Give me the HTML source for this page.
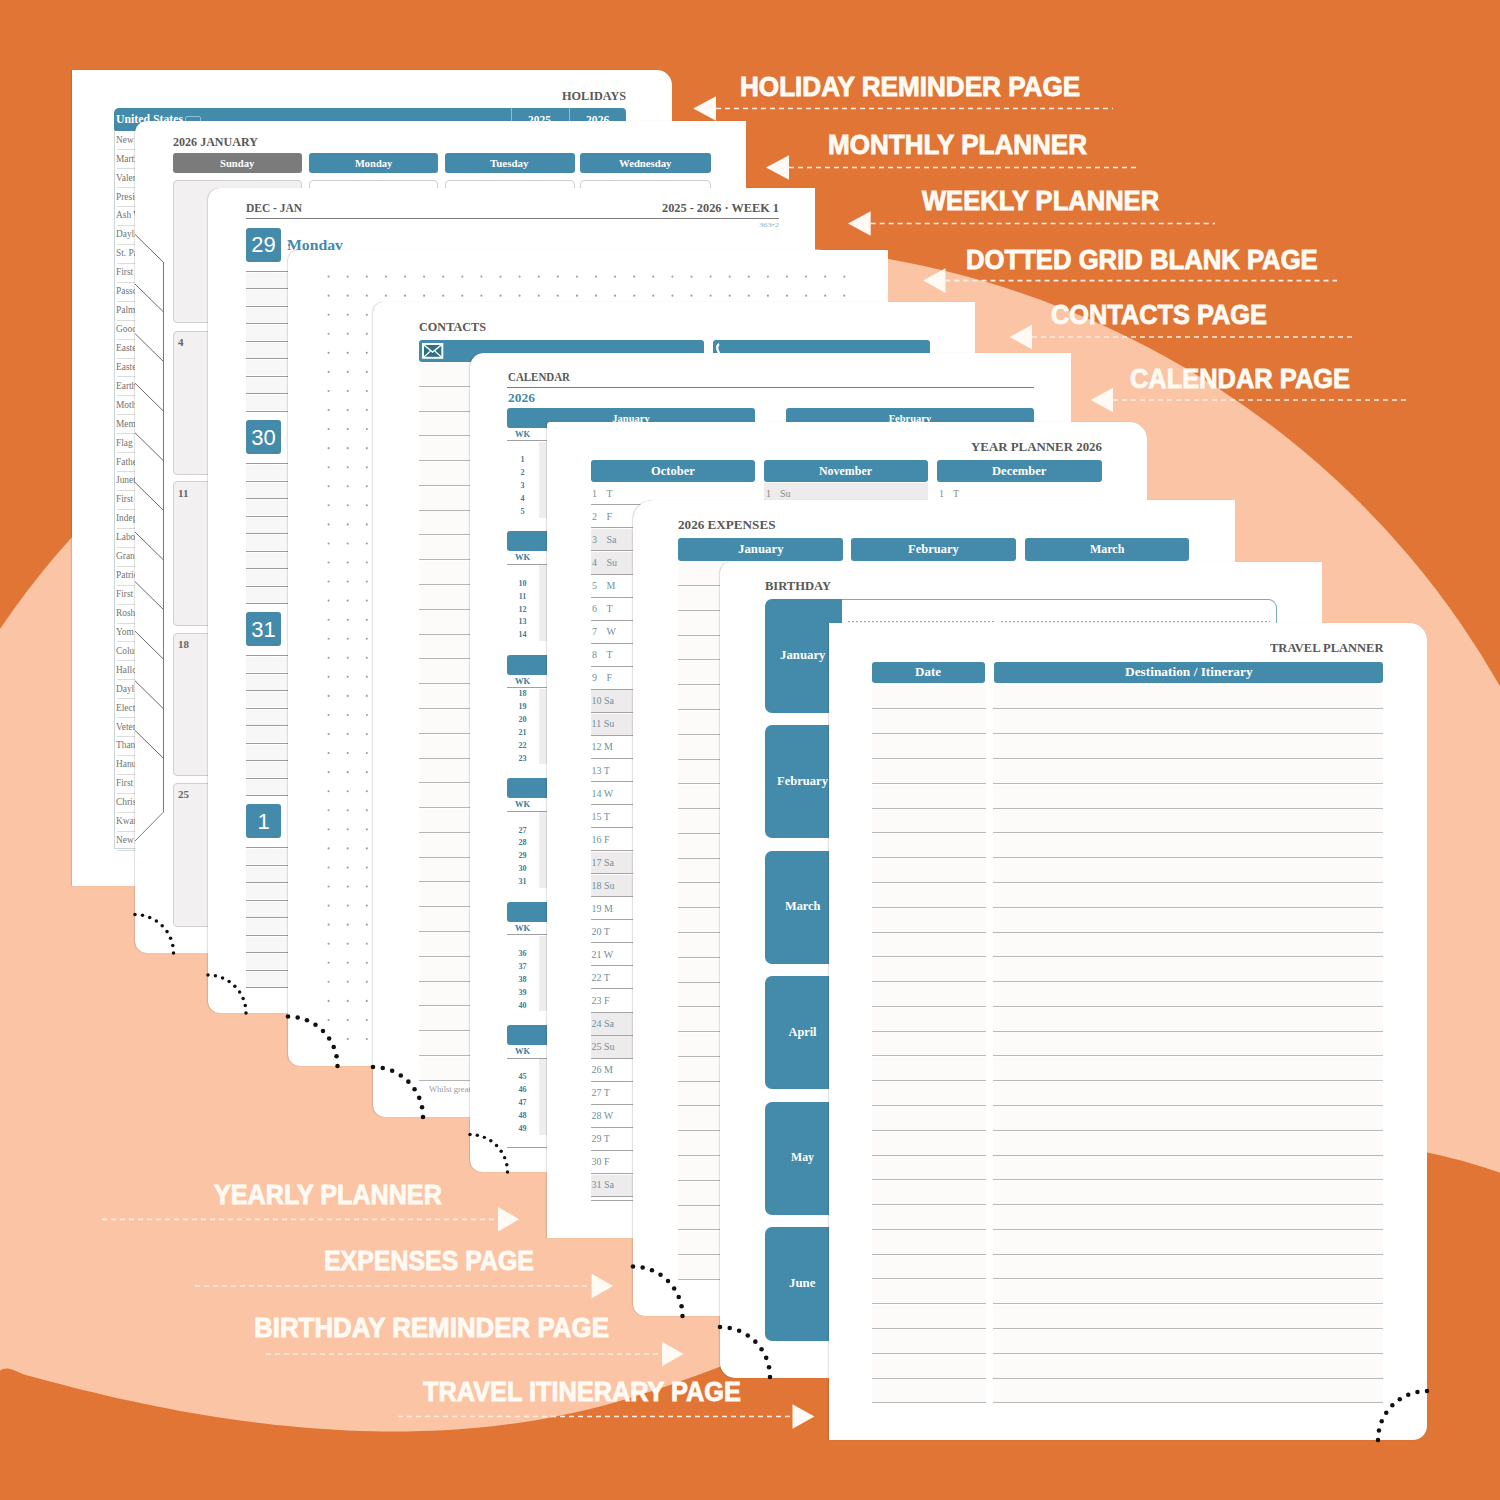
<!DOCTYPE html><html><head><meta charset="utf-8"><style>
html,body{margin:0;padding:0;width:1500px;height:1500px;overflow:hidden;background:#e07536}
.a{position:absolute;display:block}
.t{position:absolute;white-space:nowrap;display:block}
.pg{position:absolute;background:#fff;overflow:hidden}
</style></head><body>
<svg class="a" style="left:0;top:0" width="1500" height="1500"><rect x="0" y="0" width="1500" height="1500" fill="#e07536"/><ellipse cx="732.2" cy="1097.6" rx="876.7" ry="852.2" fill="#fbc4a4"/><path d="M0,1500 L0,1370.5 Q3,1368.2 8,1368.6 Q12,1369.4 16,1370.9 L24,1374.4 L36,1377.7 L48,1381.0 L60,1384.1 L72,1387.2 L84,1390.2 L96,1393.1 L108,1395.9 L120,1398.7 L132,1401.3 L144,1403.8 L156,1406.3 L168,1408.6 L180,1410.9 L192,1413.0 L204,1415.0 L216,1416.9 L228,1418.8 L240,1420.5 L252,1422.0 L264,1423.5 L276,1424.9 L288,1426.1 L300,1427.2 L312,1428.2 L324,1429.1 L336,1429.8 L348,1430.4 L360,1430.9 L372,1431.2 L384,1431.4 L396,1431.5 L408,1431.4 L420,1431.1 L432,1430.7 L444,1430.2 L456,1429.4 L468,1428.5 L480,1427.5 L492,1426.2 L504,1424.8 L516,1423.2 L528,1421.4 L540,1419.4 L552,1417.2 L564,1414.8 L576,1412.2 L588,1409.4 L600,1406.4 L612,1403.2 L624,1399.7 L636,1396.1 L648,1392.3 L660,1388.4 L672,1384.3 L684,1380.1 L696,1375.7 L708,1371.3 L720,1366.8 L732,1362.2 L744,1357.6 L756,1352.9 L768,1348.3 L780,1343.6 L792,1338.9 L804,1334.3 L816,1329.7 L828,1325.1 L840,1320.6 L852,1316.2 C1000,1250 1250,1160 1380,1148 C1400,1147 1414,1149 1428,1152.7 C1450,1157 1475,1164 1500,1172.7 L1500,1500 Z" fill="#e07536"/></svg><span id="t1" class="t" style="left:739.9px;top:74.31px;font:bold 26.8px/26.8px 'Liberation Sans', sans-serif;color:#fffaf4;transform:scaleX(0.9735);transform-origin:0 0;-webkit-text-stroke:0.9px #fffaf4;">HOLIDAY REMINDER PAGE</span><svg class="a" style="left:0;top:0" width="1500" height="1500"><line x1="716" y1="108.5" x2="1113" y2="108.5" stroke="#fdeee2" stroke-width="1.7" stroke-dasharray="5 4"/><polygon points="716,96.2 693.3,108.5 716,120.8" fill="#fffaf4"/></svg><span id="t2" class="t" style="left:828px;top:132.31px;font:bold 26.8px/26.8px 'Liberation Sans', sans-serif;color:#fffaf4;transform:scaleX(0.9719);transform-origin:0 0;-webkit-text-stroke:0.9px #fffaf4;">MONTHLY PLANNER</span><svg class="a" style="left:0;top:0" width="1500" height="1500"><line x1="789" y1="167.5" x2="1140" y2="167.5" stroke="#fdeee2" stroke-width="1.7" stroke-dasharray="5 4"/><polygon points="789,155.2 766,167.5 789,179.8" fill="#fffaf4"/></svg><span id="t3" class="t" style="left:921.9px;top:188.21px;font:bold 26.8px/26.8px 'Liberation Sans', sans-serif;color:#fffaf4;transform:scaleX(0.9536);transform-origin:0 0;-webkit-text-stroke:0.9px #fffaf4;">WEEKLY PLANNER</span><svg class="a" style="left:0;top:0" width="1500" height="1500"><line x1="870.7" y1="223.5" x2="1215" y2="223.5" stroke="#fdeee2" stroke-width="1.7" stroke-dasharray="5 4"/><polygon points="870.7,211.2 848,223.5 870.7,235.8" fill="#fffaf4"/></svg><span id="t4" class="t" style="left:966.4px;top:246.61px;font:bold 26.8px/26.8px 'Liberation Sans', sans-serif;color:#fffaf4;transform:scaleX(0.9578);transform-origin:0 0;-webkit-text-stroke:0.9px #fffaf4;">DOTTED GRID BLANK PAGE</span><svg class="a" style="left:0;top:0" width="1500" height="1500"><line x1="945.5" y1="280.6" x2="1337" y2="280.6" stroke="#fdeee2" stroke-width="1.7" stroke-dasharray="5 4"/><polygon points="945.5,268.3 923.2,280.6 945.5,292.9" fill="#fffaf4"/></svg><span id="t5" class="t" style="left:1051px;top:302.41px;font:bold 26.8px/26.8px 'Liberation Sans', sans-serif;color:#fffaf4;transform:scaleX(0.9463);transform-origin:0 0;-webkit-text-stroke:0.9px #fffaf4;">CONTACTS PAGE</span><svg class="a" style="left:0;top:0" width="1500" height="1500"><line x1="1032" y1="337" x2="1352.6" y2="337" stroke="#fdeee2" stroke-width="1.7" stroke-dasharray="5 4"/><polygon points="1032,324.7 1009.6,337 1032,349.3" fill="#fffaf4"/></svg><span id="t6" class="t" style="left:1130px;top:366.11px;font:bold 26.8px/26.8px 'Liberation Sans', sans-serif;color:#fffaf4;transform:scaleX(0.9493);transform-origin:0 0;-webkit-text-stroke:0.9px #fffaf4;">CALENDAR PAGE</span><svg class="a" style="left:0;top:0" width="1500" height="1500"><line x1="1113" y1="400" x2="1407" y2="400" stroke="#fdeee2" stroke-width="1.7" stroke-dasharray="5 4"/><polygon points="1113,387.7 1090.6,400 1113,412.3" fill="#fffaf4"/></svg><span id="t7" class="t" style="left:214.1px;top:1181.81px;font:bold 26.8px/26.8px 'Liberation Sans', sans-serif;color:#fffaf4;transform:scaleX(0.9386);transform-origin:0 0;-webkit-text-stroke:0.9px #fffaf4;">YEARLY PLANNER</span><svg class="a" style="left:0;top:0" width="1500" height="1500"><line x1="102" y1="1219.3" x2="498" y2="1219.3" stroke="#fdeee2" stroke-width="1.7" stroke-dasharray="5 4"/><polygon points="498,1207 519.2,1219.3 498,1231.6" fill="#fffaf4"/></svg><span id="t8" class="t" style="left:324.1px;top:1248.31px;font:bold 26.8px/26.8px 'Liberation Sans', sans-serif;color:#fffaf4;transform:scaleX(0.9294);transform-origin:0 0;-webkit-text-stroke:0.9px #fffaf4;">EXPENSES PAGE</span><svg class="a" style="left:0;top:0" width="1500" height="1500"><line x1="195" y1="1286" x2="591.7" y2="1286" stroke="#fdeee2" stroke-width="1.7" stroke-dasharray="5 4"/><polygon points="591.7,1273.7 613,1286 591.7,1298.3" fill="#fffaf4"/></svg><span id="t9" class="t" style="left:254.1px;top:1315.21px;font:bold 26.8px/26.8px 'Liberation Sans', sans-serif;color:#fffaf4;transform:scaleX(0.9664);transform-origin:0 0;-webkit-text-stroke:0.9px #fffaf4;">BIRTHDAY REMINDER PAGE</span><svg class="a" style="left:0;top:0" width="1500" height="1500"><line x1="266" y1="1354" x2="662" y2="1354" stroke="#fdeee2" stroke-width="1.7" stroke-dasharray="5 4"/><polygon points="662,1341.7 683.5,1354 662,1366.3" fill="#fffaf4"/></svg><span id="t10" class="t" style="left:422.8px;top:1378.51px;font:bold 26.8px/26.8px 'Liberation Sans', sans-serif;color:#fffaf4;transform:scaleX(0.9449);transform-origin:0 0;-webkit-text-stroke:0.9px #fffaf4;">TRAVEL ITINERARY PAGE</span><svg class="a" style="left:0;top:0" width="1500" height="1500"><line x1="398" y1="1416.5" x2="792.5" y2="1416.5" stroke="#fdeee2" stroke-width="1.7" stroke-dasharray="5 4"/><polygon points="792.5,1404.2 814.5,1416.5 792.5,1428.8" fill="#fffaf4"/></svg>
<div class="pg" style="left:72px;top:70px;width:600px;height:816px;border-radius:0 15px 0 0;box-shadow:-1px 0 1.2px rgba(0,0,0,0.13),0 0 0.6px rgba(70,40,20,0.30);"><span id="t11" class="t" style="left:489.5px;top:18.57px;font:bold 13px/13px 'Liberation Serif', serif;color:#585858;transform:scaleX(0.9390);transform-origin:0 0;">HOLIDAYS</span><div class="a" style="left:42px;top:38px;width:512px;height:23px;background:#448aab;border-radius:5px 4px 0 0;"></div><span id="t12" class="t" style="left:44px;top:42.92px;font:bold 12.5px/12.5px 'Liberation Serif', serif;color:#fff;transform:scaleX(0.9412);transform-origin:0 0;">United States</span><div class="a" style="left:113.2px;top:45.6px;width:16px;height:10.4px;background:transparent;border-radius:2px;border:1.2px solid #8fc0d4;box-sizing:border-box;"></div><div class="a" style="left:439px;top:38px;width:1px;height:23px;background:#8fbcd0;"></div><div class="a" style="left:497px;top:38px;width:1px;height:23px;background:#8fbcd0;"></div><span id="t13" class="t" style="left:456.4px;top:43.88px;font:bold 12px/12px 'Liberation Serif', serif;color:#fff;transform:scaleX(0.9583);transform-origin:0 0;">2025</span><span id="t14" class="t" style="left:513.7px;top:43.88px;font:bold 12px/12px 'Liberation Serif', serif;color:#fff;transform:scaleX(0.9708);transform-origin:0 0;">2026</span><span id="t15" class="t" style="left:44px;top:65.71px;font:normal 9.4px/9.4px 'Liberation Serif', serif;color:#747474;">New Year's Day</span><div class="a" style="left:45px;top:79px;width:23px;height:1px;background:#dcdcdc;"></div><span id="t16" class="t" style="left:44px;top:84.64px;font:normal 9.4px/9.4px 'Liberation Serif', serif;color:#747474;">Martin Luther King</span><div class="a" style="left:45px;top:98px;width:23px;height:1px;background:#dcdcdc;"></div><span id="t17" class="t" style="left:44px;top:103.57px;font:normal 9.4px/9.4px 'Liberation Serif', serif;color:#747474;">Valentine's Day</span><div class="a" style="left:45px;top:117px;width:23px;height:1px;background:#dcdcdc;"></div><span id="t18" class="t" style="left:44px;top:122.5px;font:normal 9.4px/9.4px 'Liberation Serif', serif;color:#747474;">Presidents' Day</span><div class="a" style="left:45px;top:136px;width:23px;height:1px;background:#dcdcdc;"></div><span id="t19" class="t" style="left:44px;top:141.43px;font:normal 9.4px/9.4px 'Liberation Serif', serif;color:#747474;">Ash Wednesday</span><div class="a" style="left:45px;top:155px;width:23px;height:1px;background:#dcdcdc;"></div><span id="t20" class="t" style="left:44px;top:160.36px;font:normal 9.4px/9.4px 'Liberation Serif', serif;color:#747474;">Daylight Saving</span><div class="a" style="left:45px;top:174px;width:23px;height:1px;background:#dcdcdc;"></div><span id="t21" class="t" style="left:44px;top:179.29px;font:normal 9.4px/9.4px 'Liberation Serif', serif;color:#747474;">St. Patrick's Day</span><div class="a" style="left:45px;top:193px;width:23px;height:1px;background:#dcdcdc;"></div><span id="t22" class="t" style="left:44px;top:198.22px;font:normal 9.4px/9.4px 'Liberation Serif', serif;color:#747474;">First Day of Spring</span><div class="a" style="left:45px;top:212px;width:23px;height:1px;background:#dcdcdc;"></div><span id="t23" class="t" style="left:44px;top:217.15px;font:normal 9.4px/9.4px 'Liberation Serif', serif;color:#747474;">Passover</span><div class="a" style="left:45px;top:231px;width:23px;height:1px;background:#dcdcdc;"></div><span id="t24" class="t" style="left:44px;top:236.08px;font:normal 9.4px/9.4px 'Liberation Serif', serif;color:#747474;">Palm Sunday</span><div class="a" style="left:45px;top:250px;width:23px;height:1px;background:#dcdcdc;"></div><span id="t25" class="t" style="left:44px;top:255.01px;font:normal 9.4px/9.4px 'Liberation Serif', serif;color:#747474;">Good Friday</span><div class="a" style="left:45px;top:269px;width:23px;height:1px;background:#dcdcdc;"></div><span id="t26" class="t" style="left:44px;top:273.94px;font:normal 9.4px/9.4px 'Liberation Serif', serif;color:#747474;">Easter Sunday</span><div class="a" style="left:45px;top:288px;width:23px;height:1px;background:#dcdcdc;"></div><span id="t27" class="t" style="left:44px;top:292.87px;font:normal 9.4px/9.4px 'Liberation Serif', serif;color:#747474;">Easter Monday</span><div class="a" style="left:45px;top:306px;width:23px;height:1px;background:#dcdcdc;"></div><span id="t28" class="t" style="left:44px;top:311.8px;font:normal 9.4px/9.4px 'Liberation Serif', serif;color:#747474;">Earth Day</span><div class="a" style="left:45px;top:325px;width:23px;height:1px;background:#dcdcdc;"></div><span id="t29" class="t" style="left:44px;top:330.73px;font:normal 9.4px/9.4px 'Liberation Serif', serif;color:#747474;">Mother's Day</span><div class="a" style="left:45px;top:344px;width:23px;height:1px;background:#dcdcdc;"></div><span id="t30" class="t" style="left:44px;top:349.66px;font:normal 9.4px/9.4px 'Liberation Serif', serif;color:#747474;">Memorial Day</span><div class="a" style="left:45px;top:363px;width:23px;height:1px;background:#dcdcdc;"></div><span id="t31" class="t" style="left:44px;top:368.59px;font:normal 9.4px/9.4px 'Liberation Serif', serif;color:#747474;">Flag Day</span><div class="a" style="left:45px;top:382px;width:23px;height:1px;background:#dcdcdc;"></div><span id="t32" class="t" style="left:44px;top:387.52px;font:normal 9.4px/9.4px 'Liberation Serif', serif;color:#747474;">Father's Day</span><div class="a" style="left:45px;top:401px;width:23px;height:1px;background:#dcdcdc;"></div><span id="t33" class="t" style="left:44px;top:406.45px;font:normal 9.4px/9.4px 'Liberation Serif', serif;color:#747474;">Juneteenth</span><div class="a" style="left:45px;top:420px;width:23px;height:1px;background:#dcdcdc;"></div><span id="t34" class="t" style="left:44px;top:425.38px;font:normal 9.4px/9.4px 'Liberation Serif', serif;color:#747474;">First Day of Summer</span><div class="a" style="left:45px;top:439px;width:23px;height:1px;background:#dcdcdc;"></div><span id="t35" class="t" style="left:44px;top:444.31px;font:normal 9.4px/9.4px 'Liberation Serif', serif;color:#747474;">Independence Day</span><div class="a" style="left:45px;top:458px;width:23px;height:1px;background:#dcdcdc;"></div><span id="t36" class="t" style="left:44px;top:463.24px;font:normal 9.4px/9.4px 'Liberation Serif', serif;color:#747474;">Labor Day</span><div class="a" style="left:45px;top:477px;width:23px;height:1px;background:#dcdcdc;"></div><span id="t37" class="t" style="left:44px;top:482.17px;font:normal 9.4px/9.4px 'Liberation Serif', serif;color:#747474;">Grandparents Day</span><div class="a" style="left:45px;top:496px;width:23px;height:1px;background:#dcdcdc;"></div><span id="t38" class="t" style="left:44px;top:501.1px;font:normal 9.4px/9.4px 'Liberation Serif', serif;color:#747474;">Patriot Day</span><div class="a" style="left:45px;top:515px;width:23px;height:1px;background:#dcdcdc;"></div><span id="t39" class="t" style="left:44px;top:520.03px;font:normal 9.4px/9.4px 'Liberation Serif', serif;color:#747474;">First Day of Autumn</span><div class="a" style="left:45px;top:534px;width:23px;height:1px;background:#dcdcdc;"></div><span id="t40" class="t" style="left:44px;top:538.96px;font:normal 9.4px/9.4px 'Liberation Serif', serif;color:#747474;">Rosh Hashana</span><div class="a" style="left:45px;top:553px;width:23px;height:1px;background:#dcdcdc;"></div><span id="t41" class="t" style="left:44px;top:557.89px;font:normal 9.4px/9.4px 'Liberation Serif', serif;color:#747474;">Yom Kippur</span><div class="a" style="left:45px;top:571px;width:23px;height:1px;background:#dcdcdc;"></div><span id="t42" class="t" style="left:44px;top:576.82px;font:normal 9.4px/9.4px 'Liberation Serif', serif;color:#747474;">Columbus Day</span><div class="a" style="left:45px;top:590px;width:23px;height:1px;background:#dcdcdc;"></div><span id="t43" class="t" style="left:44px;top:595.75px;font:normal 9.4px/9.4px 'Liberation Serif', serif;color:#747474;">Halloween</span><div class="a" style="left:45px;top:609px;width:23px;height:1px;background:#dcdcdc;"></div><span id="t44" class="t" style="left:44px;top:614.68px;font:normal 9.4px/9.4px 'Liberation Serif', serif;color:#747474;">Daylight Saving</span><div class="a" style="left:45px;top:628px;width:23px;height:1px;background:#dcdcdc;"></div><span id="t45" class="t" style="left:44px;top:633.61px;font:normal 9.4px/9.4px 'Liberation Serif', serif;color:#747474;">Election Day</span><div class="a" style="left:45px;top:647px;width:23px;height:1px;background:#dcdcdc;"></div><span id="t46" class="t" style="left:44px;top:652.54px;font:normal 9.4px/9.4px 'Liberation Serif', serif;color:#747474;">Veterans Day</span><div class="a" style="left:45px;top:666px;width:23px;height:1px;background:#dcdcdc;"></div><span id="t47" class="t" style="left:44px;top:671.47px;font:normal 9.4px/9.4px 'Liberation Serif', serif;color:#747474;">Thanksgiving</span><div class="a" style="left:45px;top:685px;width:23px;height:1px;background:#dcdcdc;"></div><span id="t48" class="t" style="left:44px;top:690.4px;font:normal 9.4px/9.4px 'Liberation Serif', serif;color:#747474;">Hanukkah</span><div class="a" style="left:45px;top:704px;width:23px;height:1px;background:#dcdcdc;"></div><span id="t49" class="t" style="left:44px;top:709.33px;font:normal 9.4px/9.4px 'Liberation Serif', serif;color:#747474;">First Day of Winter</span><div class="a" style="left:45px;top:723px;width:23px;height:1px;background:#dcdcdc;"></div><span id="t50" class="t" style="left:44px;top:728.26px;font:normal 9.4px/9.4px 'Liberation Serif', serif;color:#747474;">Christmas Day</span><div class="a" style="left:45px;top:742px;width:23px;height:1px;background:#dcdcdc;"></div><span id="t51" class="t" style="left:44px;top:747.19px;font:normal 9.4px/9.4px 'Liberation Serif', serif;color:#747474;">Kwanzaa</span><div class="a" style="left:45px;top:761px;width:23px;height:1px;background:#dcdcdc;"></div><span id="t52" class="t" style="left:44px;top:766.12px;font:normal 9.4px/9.4px 'Liberation Serif', serif;color:#747474;">New Year's Eve</span><div class="a" style="left:45px;top:780px;width:23px;height:1px;background:#dcdcdc;"></div><div class="a" style="left:42px;top:60px;width:1px;height:718px;background:#c9d6dc;"></div><div class="a" style="left:42px;top:777.5px;width:26px;height:1px;background:#c9d6dc;"></div></div>
<div class="pg" style="left:135px;top:121px;width:611px;height:832px;border-radius:12px 0 0 12px;box-shadow:-1px 0 1.2px rgba(0,0,0,0.13),0 0 0.6px rgba(70,40,20,0.30);"><span id="t53" class="t" style="left:37.6px;top:14.62px;font:bold 12.5px/12.5px 'Liberation Serif', serif;color:#585858;transform:scaleX(0.9647);transform-origin:0 0;">2026 JANUARY</span><div class="a" style="left:37.6px;top:32.4px;width:129.7px;height:19.8px;background:#7b7b7b;border-radius:3px;"></div><span id="t54" class="t" style="left:85.3px;top:36.99px;font:bold 10.8px/10.8px 'Liberation Serif', serif;color:#fff;transform:scaleX(0.9848);transform-origin:0 0;">Sunday</span><div class="a" style="left:173.5px;top:32.4px;width:129.8px;height:19.8px;background:#448aab;border-radius:3px;"></div><span id="t55" class="t" style="left:219.8px;top:36.99px;font:bold 10.8px/10.8px 'Liberation Serif', serif;color:#fff;transform:scaleX(0.9686);transform-origin:0 0;">Monday</span><div class="a" style="left:309.5px;top:32.4px;width:130px;height:19.8px;background:#448aab;border-radius:3px;"></div><span id="t56" class="t" style="left:355.25px;top:36.99px;font:bold 10.8px/10.8px 'Liberation Serif', serif;color:#fff;transform:scaleX(1.0127);transform-origin:0 0;">Tuesday</span><div class="a" style="left:445.4px;top:32.4px;width:130.2px;height:19.8px;background:#448aab;border-radius:3px;"></div><span id="t57" class="t" style="left:484.25px;top:36.99px;font:bold 10.8px/10.8px 'Liberation Serif', serif;color:#fff;transform:scaleX(0.9941);transform-origin:0 0;">Wednesday</span><div class="a" style="left:37.6px;top:59px;width:129.7px;height:143px;background:#f2f0f1;border-radius:4px;border:1px solid #cfcfcf;box-sizing:border-box;"></div><div class="a" style="left:37.6px;top:209.8px;width:129.7px;height:144.2px;background:#f2f0f1;border-radius:4px;border:1px solid #cfcfcf;box-sizing:border-box;"></div><div class="a" style="left:37.6px;top:360px;width:129.7px;height:144.6px;background:#f2f0f1;border-radius:4px;border:1px solid #cfcfcf;box-sizing:border-box;"></div><div class="a" style="left:37.6px;top:511.6px;width:129.7px;height:143.9px;background:#f2f0f1;border-radius:4px;border:1px solid #cfcfcf;box-sizing:border-box;"></div><div class="a" style="left:37.6px;top:661.6px;width:129.7px;height:144.4px;background:#f2f0f1;border-radius:4px;border:1px solid #cfcfcf;box-sizing:border-box;"></div><div class="a" style="left:173.5px;top:59px;width:129.8px;height:150px;background:#fff;border-radius:4px;border:1px solid #cfcfcf;box-sizing:border-box;"></div><div class="a" style="left:309.5px;top:59px;width:130px;height:150px;background:#fff;border-radius:4px;border:1px solid #cfcfcf;box-sizing:border-box;"></div><div class="a" style="left:445.4px;top:59px;width:130.2px;height:150px;background:#fff;border-radius:4px;border:1px solid #cfcfcf;box-sizing:border-box;"></div><span id="t58" class="t" style="left:43px;top:216.39px;font:bold 11px/11px 'Liberation Serif', serif;color:#666;">4</span><span id="t59" class="t" style="left:43px;top:366.89px;font:bold 11px/11px 'Liberation Serif', serif;color:#666;">11</span><span id="t60" class="t" style="left:43px;top:517.89px;font:bold 11px/11px 'Liberation Serif', serif;color:#666;">18</span><span id="t61" class="t" style="left:43px;top:668.39px;font:bold 11px/11px 'Liberation Serif', serif;color:#666;">25</span><svg class="a" style="left:0;top:0" width="611" height="832" viewBox="135 121 611 832"><line x1="163.5" y1="262" x2="163.5" y2="812" stroke="#7a7a7a" stroke-width="1"/><line x1="135" y1="234.4" x2="163.5" y2="262.4" stroke="#6a6a6a" stroke-width="1"/><line x1="135" y1="284" x2="163.5" y2="312" stroke="#6a6a6a" stroke-width="1"/><line x1="135" y1="333.6" x2="163.5" y2="361.6" stroke="#6a6a6a" stroke-width="1"/><line x1="135" y1="383.2" x2="163.5" y2="411.2" stroke="#6a6a6a" stroke-width="1"/><line x1="135" y1="432.8" x2="163.5" y2="460.8" stroke="#6a6a6a" stroke-width="1"/><line x1="135" y1="482.4" x2="163.5" y2="510.4" stroke="#6a6a6a" stroke-width="1"/><line x1="135" y1="532" x2="163.5" y2="560" stroke="#6a6a6a" stroke-width="1"/><line x1="135" y1="581.6" x2="163.5" y2="609.6" stroke="#6a6a6a" stroke-width="1"/><line x1="135" y1="631.2" x2="163.5" y2="659.2" stroke="#6a6a6a" stroke-width="1"/><line x1="135" y1="680.8" x2="163.5" y2="708.8" stroke="#6a6a6a" stroke-width="1"/><line x1="135" y1="730.4" x2="163.5" y2="758.4" stroke="#6a6a6a" stroke-width="1"/><line x1="163.5" y1="812" x2="134" y2="842" stroke="#7a7a7a" stroke-width="1"/></svg></div>
<div class="pg" style="left:208px;top:188px;width:607px;height:825px;border-radius:12px 0 0 12px;box-shadow:-1px 0 1.2px rgba(0,0,0,0.13),0 0 0.6px rgba(70,40,20,0.30);"><span id="t62" class="t" style="left:38px;top:13.88px;font:bold 12px/12px 'Liberation Serif', serif;color:#585858;transform:scaleX(0.9545);transform-origin:0 0;">DEC - JAN</span><span id="t63" class="t" style="left:454px;top:13.88px;font:bold 12px/12px 'Liberation Serif', serif;color:#585858;transform:scaleX(1.0252);transform-origin:0 0;">2025 - 2026 · WEEK 1</span><div class="a" style="left:38px;top:30px;width:533px;height:1px;background:#7a7a7a;"></div><span id="t64" class="t" style="left:551px;top:33.93px;font:normal 7px/7px 'Liberation Serif', serif;color:#8fb3c6;transform:scaleX(1.2156);transform-origin:0 0;">363•2</span><div class="a" style="left:38px;top:40px;width:35px;height:34px;background:#448aab;border-radius:3px;"></div><span id="t65" class="t" style="left:43.26px;top:46.44px;font:normal 22px/22px 'Liberation Sans', sans-serif;color:#fff;">29</span><div class="a" style="left:38px;top:84.9px;width:74px;height:14.9px;background:#f7f7f7;"></div><div class="a" style="left:38px;top:83px;width:74px;height:1px;background:#9a9a9a;"></div><div class="a" style="left:38px;top:102.4px;width:74px;height:14.9px;background:#f7f7f7;"></div><div class="a" style="left:38px;top:100px;width:74px;height:1px;background:#9a9a9a;"></div><div class="a" style="left:38px;top:119.9px;width:74px;height:14.9px;background:#f7f7f7;"></div><div class="a" style="left:38px;top:118px;width:74px;height:1px;background:#9a9a9a;"></div><div class="a" style="left:38px;top:137.4px;width:74px;height:14.9px;background:#f7f7f7;"></div><div class="a" style="left:38px;top:135px;width:74px;height:1px;background:#9a9a9a;"></div><div class="a" style="left:38px;top:154.9px;width:74px;height:14.9px;background:#f7f7f7;"></div><div class="a" style="left:38px;top:153px;width:74px;height:1px;background:#9a9a9a;"></div><div class="a" style="left:38px;top:172.4px;width:74px;height:14.9px;background:#f7f7f7;"></div><div class="a" style="left:38px;top:170px;width:74px;height:1px;background:#9a9a9a;"></div><div class="a" style="left:38px;top:189.9px;width:74px;height:14.9px;background:#f7f7f7;"></div><div class="a" style="left:38px;top:188px;width:74px;height:1px;background:#9a9a9a;"></div><div class="a" style="left:38px;top:207.4px;width:74px;height:14.9px;background:#f7f7f7;"></div><div class="a" style="left:38px;top:205px;width:74px;height:1px;background:#9a9a9a;"></div><div class="a" style="left:38px;top:223px;width:74px;height:1px;background:#9a9a9a;"></div><span id="t66" class="t" style="left:79px;top:50.88px;font:bold 12px/12px 'Liberation Serif', serif;color:#448aab;">·</span><div class="a" style="left:38px;top:232.4px;width:35px;height:34px;background:#448aab;border-radius:3px;"></div><span id="t67" class="t" style="left:43.26px;top:238.84px;font:normal 22px/22px 'Liberation Sans', sans-serif;color:#fff;">30</span><div class="a" style="left:38px;top:277.3px;width:74px;height:14.9px;background:#f7f7f7;"></div><div class="a" style="left:38px;top:275px;width:74px;height:1px;background:#9a9a9a;"></div><div class="a" style="left:38px;top:294.8px;width:74px;height:14.9px;background:#f7f7f7;"></div><div class="a" style="left:38px;top:293px;width:74px;height:1px;background:#9a9a9a;"></div><div class="a" style="left:38px;top:312.3px;width:74px;height:14.9px;background:#f7f7f7;"></div><div class="a" style="left:38px;top:310px;width:74px;height:1px;background:#9a9a9a;"></div><div class="a" style="left:38px;top:329.8px;width:74px;height:14.9px;background:#f7f7f7;"></div><div class="a" style="left:38px;top:328px;width:74px;height:1px;background:#9a9a9a;"></div><div class="a" style="left:38px;top:347.3px;width:74px;height:14.9px;background:#f7f7f7;"></div><div class="a" style="left:38px;top:345px;width:74px;height:1px;background:#9a9a9a;"></div><div class="a" style="left:38px;top:364.8px;width:74px;height:14.9px;background:#f7f7f7;"></div><div class="a" style="left:38px;top:363px;width:74px;height:1px;background:#9a9a9a;"></div><div class="a" style="left:38px;top:382.3px;width:74px;height:14.9px;background:#f7f7f7;"></div><div class="a" style="left:38px;top:380px;width:74px;height:1px;background:#9a9a9a;"></div><div class="a" style="left:38px;top:399.8px;width:74px;height:14.9px;background:#f7f7f7;"></div><div class="a" style="left:38px;top:398px;width:74px;height:1px;background:#9a9a9a;"></div><div class="a" style="left:38px;top:415px;width:74px;height:1px;background:#9a9a9a;"></div><span id="t68" class="t" style="left:79px;top:243.28px;font:bold 12px/12px 'Liberation Serif', serif;color:#448aab;">·</span><div class="a" style="left:38px;top:424.4px;width:35px;height:34px;background:#448aab;border-radius:3px;"></div><span id="t69" class="t" style="left:43.26px;top:430.85px;font:normal 22px/22px 'Liberation Sans', sans-serif;color:#fff;">31</span><div class="a" style="left:38px;top:469.3px;width:74px;height:14.9px;background:#f7f7f7;"></div><div class="a" style="left:38px;top:467px;width:74px;height:1px;background:#9a9a9a;"></div><div class="a" style="left:38px;top:486.8px;width:74px;height:14.9px;background:#f7f7f7;"></div><div class="a" style="left:38px;top:485px;width:74px;height:1px;background:#9a9a9a;"></div><div class="a" style="left:38px;top:504.3px;width:74px;height:14.9px;background:#f7f7f7;"></div><div class="a" style="left:38px;top:502px;width:74px;height:1px;background:#9a9a9a;"></div><div class="a" style="left:38px;top:521.8px;width:74px;height:14.9px;background:#f7f7f7;"></div><div class="a" style="left:38px;top:520px;width:74px;height:1px;background:#9a9a9a;"></div><div class="a" style="left:38px;top:539.3px;width:74px;height:14.9px;background:#f7f7f7;"></div><div class="a" style="left:38px;top:537px;width:74px;height:1px;background:#9a9a9a;"></div><div class="a" style="left:38px;top:556.8px;width:74px;height:14.9px;background:#f7f7f7;"></div><div class="a" style="left:38px;top:555px;width:74px;height:1px;background:#9a9a9a;"></div><div class="a" style="left:38px;top:574.3px;width:74px;height:14.9px;background:#f7f7f7;"></div><div class="a" style="left:38px;top:572px;width:74px;height:1px;background:#9a9a9a;"></div><div class="a" style="left:38px;top:591.8px;width:74px;height:14.9px;background:#f7f7f7;"></div><div class="a" style="left:38px;top:590px;width:74px;height:1px;background:#9a9a9a;"></div><div class="a" style="left:38px;top:607px;width:74px;height:1px;background:#9a9a9a;"></div><span id="t70" class="t" style="left:79px;top:435.28px;font:bold 12px/12px 'Liberation Serif', serif;color:#448aab;">·</span><div class="a" style="left:38px;top:616.4px;width:35px;height:34px;background:#448aab;border-radius:3px;"></div><span id="t71" class="t" style="left:49.38px;top:622.85px;font:normal 22px/22px 'Liberation Sans', sans-serif;color:#fff;">1</span><div class="a" style="left:38px;top:661.3px;width:74px;height:14.9px;background:#f7f7f7;"></div><div class="a" style="left:38px;top:659px;width:74px;height:1px;background:#9a9a9a;"></div><div class="a" style="left:38px;top:678.8px;width:74px;height:14.9px;background:#f7f7f7;"></div><div class="a" style="left:38px;top:677px;width:74px;height:1px;background:#9a9a9a;"></div><div class="a" style="left:38px;top:696.3px;width:74px;height:14.9px;background:#f7f7f7;"></div><div class="a" style="left:38px;top:694px;width:74px;height:1px;background:#9a9a9a;"></div><div class="a" style="left:38px;top:713.8px;width:74px;height:14.9px;background:#f7f7f7;"></div><div class="a" style="left:38px;top:712px;width:74px;height:1px;background:#9a9a9a;"></div><div class="a" style="left:38px;top:731.3px;width:74px;height:14.9px;background:#f7f7f7;"></div><div class="a" style="left:38px;top:729px;width:74px;height:1px;background:#9a9a9a;"></div><div class="a" style="left:38px;top:748.8px;width:74px;height:14.9px;background:#f7f7f7;"></div><div class="a" style="left:38px;top:747px;width:74px;height:1px;background:#9a9a9a;"></div><div class="a" style="left:38px;top:766.3px;width:74px;height:14.9px;background:#f7f7f7;"></div><div class="a" style="left:38px;top:764px;width:74px;height:1px;background:#9a9a9a;"></div><div class="a" style="left:38px;top:783.8px;width:74px;height:14.9px;background:#f7f7f7;"></div><div class="a" style="left:38px;top:782px;width:74px;height:1px;background:#9a9a9a;"></div><div class="a" style="left:38px;top:799px;width:74px;height:1px;background:#9a9a9a;"></div><span id="t72" class="t" style="left:79px;top:627.28px;font:bold 12px/12px 'Liberation Serif', serif;color:#448aab;">·</span><span id="t73" class="t" style="left:79px;top:49.09px;font:bold 15.5px/15.5px 'Liberation Serif', serif;color:#448aab;transform:scaleX(1.0159);transform-origin:0 0;">Mondav</span></div>
<div class="pg" style="left:288px;top:250px;width:600px;height:816px;border-radius:10px 0 0 12px;box-shadow:-1px 0 1.2px rgba(0,0,0,0.13),0 0 0.6px rgba(70,40,20,0.30);"><svg class="a" style="left:0;top:0" width="600" height="816" viewBox="288 250 600 816"><g fill="#9c9c9c"><circle cx="328.6" cy="276.6" r="1.05"/><circle cx="347.7" cy="276.6" r="1.05"/><circle cx="366.8" cy="276.6" r="1.05"/><circle cx="385.9" cy="276.6" r="1.05"/><circle cx="405" cy="276.6" r="1.05"/><circle cx="424.1" cy="276.6" r="1.05"/><circle cx="443.2" cy="276.6" r="1.05"/><circle cx="462.3" cy="276.6" r="1.05"/><circle cx="481.4" cy="276.6" r="1.05"/><circle cx="500.5" cy="276.6" r="1.05"/><circle cx="519.6" cy="276.6" r="1.05"/><circle cx="538.7" cy="276.6" r="1.05"/><circle cx="557.8" cy="276.6" r="1.05"/><circle cx="576.9" cy="276.6" r="1.05"/><circle cx="596" cy="276.6" r="1.05"/><circle cx="615.1" cy="276.6" r="1.05"/><circle cx="634.2" cy="276.6" r="1.05"/><circle cx="653.3" cy="276.6" r="1.05"/><circle cx="672.4" cy="276.6" r="1.05"/><circle cx="691.5" cy="276.6" r="1.05"/><circle cx="710.6" cy="276.6" r="1.05"/><circle cx="729.7" cy="276.6" r="1.05"/><circle cx="748.8" cy="276.6" r="1.05"/><circle cx="767.9" cy="276.6" r="1.05"/><circle cx="787" cy="276.6" r="1.05"/><circle cx="806.1" cy="276.6" r="1.05"/><circle cx="825.2" cy="276.6" r="1.05"/><circle cx="844.3" cy="276.6" r="1.05"/><circle cx="328.6" cy="295.66" r="1.05"/><circle cx="347.7" cy="295.66" r="1.05"/><circle cx="366.8" cy="295.66" r="1.05"/><circle cx="385.9" cy="295.66" r="1.05"/><circle cx="405" cy="295.66" r="1.05"/><circle cx="424.1" cy="295.66" r="1.05"/><circle cx="443.2" cy="295.66" r="1.05"/><circle cx="462.3" cy="295.66" r="1.05"/><circle cx="481.4" cy="295.66" r="1.05"/><circle cx="500.5" cy="295.66" r="1.05"/><circle cx="519.6" cy="295.66" r="1.05"/><circle cx="538.7" cy="295.66" r="1.05"/><circle cx="557.8" cy="295.66" r="1.05"/><circle cx="576.9" cy="295.66" r="1.05"/><circle cx="596" cy="295.66" r="1.05"/><circle cx="615.1" cy="295.66" r="1.05"/><circle cx="634.2" cy="295.66" r="1.05"/><circle cx="653.3" cy="295.66" r="1.05"/><circle cx="672.4" cy="295.66" r="1.05"/><circle cx="691.5" cy="295.66" r="1.05"/><circle cx="710.6" cy="295.66" r="1.05"/><circle cx="729.7" cy="295.66" r="1.05"/><circle cx="748.8" cy="295.66" r="1.05"/><circle cx="767.9" cy="295.66" r="1.05"/><circle cx="787" cy="295.66" r="1.05"/><circle cx="806.1" cy="295.66" r="1.05"/><circle cx="825.2" cy="295.66" r="1.05"/><circle cx="844.3" cy="295.66" r="1.05"/><circle cx="328.6" cy="314.72" r="1.05"/><circle cx="347.7" cy="314.72" r="1.05"/><circle cx="366.8" cy="314.72" r="1.05"/><circle cx="385.9" cy="314.72" r="1.05"/><circle cx="405" cy="314.72" r="1.05"/><circle cx="424.1" cy="314.72" r="1.05"/><circle cx="443.2" cy="314.72" r="1.05"/><circle cx="462.3" cy="314.72" r="1.05"/><circle cx="481.4" cy="314.72" r="1.05"/><circle cx="500.5" cy="314.72" r="1.05"/><circle cx="519.6" cy="314.72" r="1.05"/><circle cx="538.7" cy="314.72" r="1.05"/><circle cx="557.8" cy="314.72" r="1.05"/><circle cx="576.9" cy="314.72" r="1.05"/><circle cx="596" cy="314.72" r="1.05"/><circle cx="615.1" cy="314.72" r="1.05"/><circle cx="634.2" cy="314.72" r="1.05"/><circle cx="653.3" cy="314.72" r="1.05"/><circle cx="672.4" cy="314.72" r="1.05"/><circle cx="691.5" cy="314.72" r="1.05"/><circle cx="710.6" cy="314.72" r="1.05"/><circle cx="729.7" cy="314.72" r="1.05"/><circle cx="748.8" cy="314.72" r="1.05"/><circle cx="767.9" cy="314.72" r="1.05"/><circle cx="787" cy="314.72" r="1.05"/><circle cx="806.1" cy="314.72" r="1.05"/><circle cx="825.2" cy="314.72" r="1.05"/><circle cx="844.3" cy="314.72" r="1.05"/><circle cx="328.6" cy="333.78" r="1.05"/><circle cx="347.7" cy="333.78" r="1.05"/><circle cx="366.8" cy="333.78" r="1.05"/><circle cx="385.9" cy="333.78" r="1.05"/><circle cx="405" cy="333.78" r="1.05"/><circle cx="424.1" cy="333.78" r="1.05"/><circle cx="443.2" cy="333.78" r="1.05"/><circle cx="462.3" cy="333.78" r="1.05"/><circle cx="481.4" cy="333.78" r="1.05"/><circle cx="500.5" cy="333.78" r="1.05"/><circle cx="519.6" cy="333.78" r="1.05"/><circle cx="538.7" cy="333.78" r="1.05"/><circle cx="557.8" cy="333.78" r="1.05"/><circle cx="576.9" cy="333.78" r="1.05"/><circle cx="596" cy="333.78" r="1.05"/><circle cx="615.1" cy="333.78" r="1.05"/><circle cx="634.2" cy="333.78" r="1.05"/><circle cx="653.3" cy="333.78" r="1.05"/><circle cx="672.4" cy="333.78" r="1.05"/><circle cx="691.5" cy="333.78" r="1.05"/><circle cx="710.6" cy="333.78" r="1.05"/><circle cx="729.7" cy="333.78" r="1.05"/><circle cx="748.8" cy="333.78" r="1.05"/><circle cx="767.9" cy="333.78" r="1.05"/><circle cx="787" cy="333.78" r="1.05"/><circle cx="806.1" cy="333.78" r="1.05"/><circle cx="825.2" cy="333.78" r="1.05"/><circle cx="844.3" cy="333.78" r="1.05"/><circle cx="328.6" cy="352.84" r="1.05"/><circle cx="347.7" cy="352.84" r="1.05"/><circle cx="366.8" cy="352.84" r="1.05"/><circle cx="385.9" cy="352.84" r="1.05"/><circle cx="405" cy="352.84" r="1.05"/><circle cx="424.1" cy="352.84" r="1.05"/><circle cx="443.2" cy="352.84" r="1.05"/><circle cx="462.3" cy="352.84" r="1.05"/><circle cx="481.4" cy="352.84" r="1.05"/><circle cx="500.5" cy="352.84" r="1.05"/><circle cx="519.6" cy="352.84" r="1.05"/><circle cx="538.7" cy="352.84" r="1.05"/><circle cx="557.8" cy="352.84" r="1.05"/><circle cx="576.9" cy="352.84" r="1.05"/><circle cx="596" cy="352.84" r="1.05"/><circle cx="615.1" cy="352.84" r="1.05"/><circle cx="634.2" cy="352.84" r="1.05"/><circle cx="653.3" cy="352.84" r="1.05"/><circle cx="672.4" cy="352.84" r="1.05"/><circle cx="691.5" cy="352.84" r="1.05"/><circle cx="710.6" cy="352.84" r="1.05"/><circle cx="729.7" cy="352.84" r="1.05"/><circle cx="748.8" cy="352.84" r="1.05"/><circle cx="767.9" cy="352.84" r="1.05"/><circle cx="787" cy="352.84" r="1.05"/><circle cx="806.1" cy="352.84" r="1.05"/><circle cx="825.2" cy="352.84" r="1.05"/><circle cx="844.3" cy="352.84" r="1.05"/><circle cx="328.6" cy="371.9" r="1.05"/><circle cx="347.7" cy="371.9" r="1.05"/><circle cx="366.8" cy="371.9" r="1.05"/><circle cx="385.9" cy="371.9" r="1.05"/><circle cx="405" cy="371.9" r="1.05"/><circle cx="424.1" cy="371.9" r="1.05"/><circle cx="443.2" cy="371.9" r="1.05"/><circle cx="462.3" cy="371.9" r="1.05"/><circle cx="481.4" cy="371.9" r="1.05"/><circle cx="500.5" cy="371.9" r="1.05"/><circle cx="519.6" cy="371.9" r="1.05"/><circle cx="538.7" cy="371.9" r="1.05"/><circle cx="557.8" cy="371.9" r="1.05"/><circle cx="576.9" cy="371.9" r="1.05"/><circle cx="596" cy="371.9" r="1.05"/><circle cx="615.1" cy="371.9" r="1.05"/><circle cx="634.2" cy="371.9" r="1.05"/><circle cx="653.3" cy="371.9" r="1.05"/><circle cx="672.4" cy="371.9" r="1.05"/><circle cx="691.5" cy="371.9" r="1.05"/><circle cx="710.6" cy="371.9" r="1.05"/><circle cx="729.7" cy="371.9" r="1.05"/><circle cx="748.8" cy="371.9" r="1.05"/><circle cx="767.9" cy="371.9" r="1.05"/><circle cx="787" cy="371.9" r="1.05"/><circle cx="806.1" cy="371.9" r="1.05"/><circle cx="825.2" cy="371.9" r="1.05"/><circle cx="844.3" cy="371.9" r="1.05"/><circle cx="328.6" cy="390.96" r="1.05"/><circle cx="347.7" cy="390.96" r="1.05"/><circle cx="366.8" cy="390.96" r="1.05"/><circle cx="385.9" cy="390.96" r="1.05"/><circle cx="405" cy="390.96" r="1.05"/><circle cx="424.1" cy="390.96" r="1.05"/><circle cx="443.2" cy="390.96" r="1.05"/><circle cx="462.3" cy="390.96" r="1.05"/><circle cx="481.4" cy="390.96" r="1.05"/><circle cx="500.5" cy="390.96" r="1.05"/><circle cx="519.6" cy="390.96" r="1.05"/><circle cx="538.7" cy="390.96" r="1.05"/><circle cx="557.8" cy="390.96" r="1.05"/><circle cx="576.9" cy="390.96" r="1.05"/><circle cx="596" cy="390.96" r="1.05"/><circle cx="615.1" cy="390.96" r="1.05"/><circle cx="634.2" cy="390.96" r="1.05"/><circle cx="653.3" cy="390.96" r="1.05"/><circle cx="672.4" cy="390.96" r="1.05"/><circle cx="691.5" cy="390.96" r="1.05"/><circle cx="710.6" cy="390.96" r="1.05"/><circle cx="729.7" cy="390.96" r="1.05"/><circle cx="748.8" cy="390.96" r="1.05"/><circle cx="767.9" cy="390.96" r="1.05"/><circle cx="787" cy="390.96" r="1.05"/><circle cx="806.1" cy="390.96" r="1.05"/><circle cx="825.2" cy="390.96" r="1.05"/><circle cx="844.3" cy="390.96" r="1.05"/><circle cx="328.6" cy="410.02" r="1.05"/><circle cx="347.7" cy="410.02" r="1.05"/><circle cx="366.8" cy="410.02" r="1.05"/><circle cx="385.9" cy="410.02" r="1.05"/><circle cx="405" cy="410.02" r="1.05"/><circle cx="424.1" cy="410.02" r="1.05"/><circle cx="443.2" cy="410.02" r="1.05"/><circle cx="462.3" cy="410.02" r="1.05"/><circle cx="481.4" cy="410.02" r="1.05"/><circle cx="500.5" cy="410.02" r="1.05"/><circle cx="519.6" cy="410.02" r="1.05"/><circle cx="538.7" cy="410.02" r="1.05"/><circle cx="557.8" cy="410.02" r="1.05"/><circle cx="576.9" cy="410.02" r="1.05"/><circle cx="596" cy="410.02" r="1.05"/><circle cx="615.1" cy="410.02" r="1.05"/><circle cx="634.2" cy="410.02" r="1.05"/><circle cx="653.3" cy="410.02" r="1.05"/><circle cx="672.4" cy="410.02" r="1.05"/><circle cx="691.5" cy="410.02" r="1.05"/><circle cx="710.6" cy="410.02" r="1.05"/><circle cx="729.7" cy="410.02" r="1.05"/><circle cx="748.8" cy="410.02" r="1.05"/><circle cx="767.9" cy="410.02" r="1.05"/><circle cx="787" cy="410.02" r="1.05"/><circle cx="806.1" cy="410.02" r="1.05"/><circle cx="825.2" cy="410.02" r="1.05"/><circle cx="844.3" cy="410.02" r="1.05"/><circle cx="328.6" cy="429.08" r="1.05"/><circle cx="347.7" cy="429.08" r="1.05"/><circle cx="366.8" cy="429.08" r="1.05"/><circle cx="385.9" cy="429.08" r="1.05"/><circle cx="405" cy="429.08" r="1.05"/><circle cx="424.1" cy="429.08" r="1.05"/><circle cx="443.2" cy="429.08" r="1.05"/><circle cx="462.3" cy="429.08" r="1.05"/><circle cx="481.4" cy="429.08" r="1.05"/><circle cx="500.5" cy="429.08" r="1.05"/><circle cx="519.6" cy="429.08" r="1.05"/><circle cx="538.7" cy="429.08" r="1.05"/><circle cx="557.8" cy="429.08" r="1.05"/><circle cx="576.9" cy="429.08" r="1.05"/><circle cx="596" cy="429.08" r="1.05"/><circle cx="615.1" cy="429.08" r="1.05"/><circle cx="634.2" cy="429.08" r="1.05"/><circle cx="653.3" cy="429.08" r="1.05"/><circle cx="672.4" cy="429.08" r="1.05"/><circle cx="691.5" cy="429.08" r="1.05"/><circle cx="710.6" cy="429.08" r="1.05"/><circle cx="729.7" cy="429.08" r="1.05"/><circle cx="748.8" cy="429.08" r="1.05"/><circle cx="767.9" cy="429.08" r="1.05"/><circle cx="787" cy="429.08" r="1.05"/><circle cx="806.1" cy="429.08" r="1.05"/><circle cx="825.2" cy="429.08" r="1.05"/><circle cx="844.3" cy="429.08" r="1.05"/><circle cx="328.6" cy="448.14" r="1.05"/><circle cx="347.7" cy="448.14" r="1.05"/><circle cx="366.8" cy="448.14" r="1.05"/><circle cx="385.9" cy="448.14" r="1.05"/><circle cx="405" cy="448.14" r="1.05"/><circle cx="424.1" cy="448.14" r="1.05"/><circle cx="443.2" cy="448.14" r="1.05"/><circle cx="462.3" cy="448.14" r="1.05"/><circle cx="481.4" cy="448.14" r="1.05"/><circle cx="500.5" cy="448.14" r="1.05"/><circle cx="519.6" cy="448.14" r="1.05"/><circle cx="538.7" cy="448.14" r="1.05"/><circle cx="557.8" cy="448.14" r="1.05"/><circle cx="576.9" cy="448.14" r="1.05"/><circle cx="596" cy="448.14" r="1.05"/><circle cx="615.1" cy="448.14" r="1.05"/><circle cx="634.2" cy="448.14" r="1.05"/><circle cx="653.3" cy="448.14" r="1.05"/><circle cx="672.4" cy="448.14" r="1.05"/><circle cx="691.5" cy="448.14" r="1.05"/><circle cx="710.6" cy="448.14" r="1.05"/><circle cx="729.7" cy="448.14" r="1.05"/><circle cx="748.8" cy="448.14" r="1.05"/><circle cx="767.9" cy="448.14" r="1.05"/><circle cx="787" cy="448.14" r="1.05"/><circle cx="806.1" cy="448.14" r="1.05"/><circle cx="825.2" cy="448.14" r="1.05"/><circle cx="844.3" cy="448.14" r="1.05"/><circle cx="328.6" cy="467.2" r="1.05"/><circle cx="347.7" cy="467.2" r="1.05"/><circle cx="366.8" cy="467.2" r="1.05"/><circle cx="385.9" cy="467.2" r="1.05"/><circle cx="405" cy="467.2" r="1.05"/><circle cx="424.1" cy="467.2" r="1.05"/><circle cx="443.2" cy="467.2" r="1.05"/><circle cx="462.3" cy="467.2" r="1.05"/><circle cx="481.4" cy="467.2" r="1.05"/><circle cx="500.5" cy="467.2" r="1.05"/><circle cx="519.6" cy="467.2" r="1.05"/><circle cx="538.7" cy="467.2" r="1.05"/><circle cx="557.8" cy="467.2" r="1.05"/><circle cx="576.9" cy="467.2" r="1.05"/><circle cx="596" cy="467.2" r="1.05"/><circle cx="615.1" cy="467.2" r="1.05"/><circle cx="634.2" cy="467.2" r="1.05"/><circle cx="653.3" cy="467.2" r="1.05"/><circle cx="672.4" cy="467.2" r="1.05"/><circle cx="691.5" cy="467.2" r="1.05"/><circle cx="710.6" cy="467.2" r="1.05"/><circle cx="729.7" cy="467.2" r="1.05"/><circle cx="748.8" cy="467.2" r="1.05"/><circle cx="767.9" cy="467.2" r="1.05"/><circle cx="787" cy="467.2" r="1.05"/><circle cx="806.1" cy="467.2" r="1.05"/><circle cx="825.2" cy="467.2" r="1.05"/><circle cx="844.3" cy="467.2" r="1.05"/><circle cx="328.6" cy="486.26" r="1.05"/><circle cx="347.7" cy="486.26" r="1.05"/><circle cx="366.8" cy="486.26" r="1.05"/><circle cx="385.9" cy="486.26" r="1.05"/><circle cx="405" cy="486.26" r="1.05"/><circle cx="424.1" cy="486.26" r="1.05"/><circle cx="443.2" cy="486.26" r="1.05"/><circle cx="462.3" cy="486.26" r="1.05"/><circle cx="481.4" cy="486.26" r="1.05"/><circle cx="500.5" cy="486.26" r="1.05"/><circle cx="519.6" cy="486.26" r="1.05"/><circle cx="538.7" cy="486.26" r="1.05"/><circle cx="557.8" cy="486.26" r="1.05"/><circle cx="576.9" cy="486.26" r="1.05"/><circle cx="596" cy="486.26" r="1.05"/><circle cx="615.1" cy="486.26" r="1.05"/><circle cx="634.2" cy="486.26" r="1.05"/><circle cx="653.3" cy="486.26" r="1.05"/><circle cx="672.4" cy="486.26" r="1.05"/><circle cx="691.5" cy="486.26" r="1.05"/><circle cx="710.6" cy="486.26" r="1.05"/><circle cx="729.7" cy="486.26" r="1.05"/><circle cx="748.8" cy="486.26" r="1.05"/><circle cx="767.9" cy="486.26" r="1.05"/><circle cx="787" cy="486.26" r="1.05"/><circle cx="806.1" cy="486.26" r="1.05"/><circle cx="825.2" cy="486.26" r="1.05"/><circle cx="844.3" cy="486.26" r="1.05"/><circle cx="328.6" cy="505.32" r="1.05"/><circle cx="347.7" cy="505.32" r="1.05"/><circle cx="366.8" cy="505.32" r="1.05"/><circle cx="385.9" cy="505.32" r="1.05"/><circle cx="405" cy="505.32" r="1.05"/><circle cx="424.1" cy="505.32" r="1.05"/><circle cx="443.2" cy="505.32" r="1.05"/><circle cx="462.3" cy="505.32" r="1.05"/><circle cx="481.4" cy="505.32" r="1.05"/><circle cx="500.5" cy="505.32" r="1.05"/><circle cx="519.6" cy="505.32" r="1.05"/><circle cx="538.7" cy="505.32" r="1.05"/><circle cx="557.8" cy="505.32" r="1.05"/><circle cx="576.9" cy="505.32" r="1.05"/><circle cx="596" cy="505.32" r="1.05"/><circle cx="615.1" cy="505.32" r="1.05"/><circle cx="634.2" cy="505.32" r="1.05"/><circle cx="653.3" cy="505.32" r="1.05"/><circle cx="672.4" cy="505.32" r="1.05"/><circle cx="691.5" cy="505.32" r="1.05"/><circle cx="710.6" cy="505.32" r="1.05"/><circle cx="729.7" cy="505.32" r="1.05"/><circle cx="748.8" cy="505.32" r="1.05"/><circle cx="767.9" cy="505.32" r="1.05"/><circle cx="787" cy="505.32" r="1.05"/><circle cx="806.1" cy="505.32" r="1.05"/><circle cx="825.2" cy="505.32" r="1.05"/><circle cx="844.3" cy="505.32" r="1.05"/><circle cx="328.6" cy="524.38" r="1.05"/><circle cx="347.7" cy="524.38" r="1.05"/><circle cx="366.8" cy="524.38" r="1.05"/><circle cx="385.9" cy="524.38" r="1.05"/><circle cx="405" cy="524.38" r="1.05"/><circle cx="424.1" cy="524.38" r="1.05"/><circle cx="443.2" cy="524.38" r="1.05"/><circle cx="462.3" cy="524.38" r="1.05"/><circle cx="481.4" cy="524.38" r="1.05"/><circle cx="500.5" cy="524.38" r="1.05"/><circle cx="519.6" cy="524.38" r="1.05"/><circle cx="538.7" cy="524.38" r="1.05"/><circle cx="557.8" cy="524.38" r="1.05"/><circle cx="576.9" cy="524.38" r="1.05"/><circle cx="596" cy="524.38" r="1.05"/><circle cx="615.1" cy="524.38" r="1.05"/><circle cx="634.2" cy="524.38" r="1.05"/><circle cx="653.3" cy="524.38" r="1.05"/><circle cx="672.4" cy="524.38" r="1.05"/><circle cx="691.5" cy="524.38" r="1.05"/><circle cx="710.6" cy="524.38" r="1.05"/><circle cx="729.7" cy="524.38" r="1.05"/><circle cx="748.8" cy="524.38" r="1.05"/><circle cx="767.9" cy="524.38" r="1.05"/><circle cx="787" cy="524.38" r="1.05"/><circle cx="806.1" cy="524.38" r="1.05"/><circle cx="825.2" cy="524.38" r="1.05"/><circle cx="844.3" cy="524.38" r="1.05"/><circle cx="328.6" cy="543.44" r="1.05"/><circle cx="347.7" cy="543.44" r="1.05"/><circle cx="366.8" cy="543.44" r="1.05"/><circle cx="385.9" cy="543.44" r="1.05"/><circle cx="405" cy="543.44" r="1.05"/><circle cx="424.1" cy="543.44" r="1.05"/><circle cx="443.2" cy="543.44" r="1.05"/><circle cx="462.3" cy="543.44" r="1.05"/><circle cx="481.4" cy="543.44" r="1.05"/><circle cx="500.5" cy="543.44" r="1.05"/><circle cx="519.6" cy="543.44" r="1.05"/><circle cx="538.7" cy="543.44" r="1.05"/><circle cx="557.8" cy="543.44" r="1.05"/><circle cx="576.9" cy="543.44" r="1.05"/><circle cx="596" cy="543.44" r="1.05"/><circle cx="615.1" cy="543.44" r="1.05"/><circle cx="634.2" cy="543.44" r="1.05"/><circle cx="653.3" cy="543.44" r="1.05"/><circle cx="672.4" cy="543.44" r="1.05"/><circle cx="691.5" cy="543.44" r="1.05"/><circle cx="710.6" cy="543.44" r="1.05"/><circle cx="729.7" cy="543.44" r="1.05"/><circle cx="748.8" cy="543.44" r="1.05"/><circle cx="767.9" cy="543.44" r="1.05"/><circle cx="787" cy="543.44" r="1.05"/><circle cx="806.1" cy="543.44" r="1.05"/><circle cx="825.2" cy="543.44" r="1.05"/><circle cx="844.3" cy="543.44" r="1.05"/><circle cx="328.6" cy="562.5" r="1.05"/><circle cx="347.7" cy="562.5" r="1.05"/><circle cx="366.8" cy="562.5" r="1.05"/><circle cx="385.9" cy="562.5" r="1.05"/><circle cx="405" cy="562.5" r="1.05"/><circle cx="424.1" cy="562.5" r="1.05"/><circle cx="443.2" cy="562.5" r="1.05"/><circle cx="462.3" cy="562.5" r="1.05"/><circle cx="481.4" cy="562.5" r="1.05"/><circle cx="500.5" cy="562.5" r="1.05"/><circle cx="519.6" cy="562.5" r="1.05"/><circle cx="538.7" cy="562.5" r="1.05"/><circle cx="557.8" cy="562.5" r="1.05"/><circle cx="576.9" cy="562.5" r="1.05"/><circle cx="596" cy="562.5" r="1.05"/><circle cx="615.1" cy="562.5" r="1.05"/><circle cx="634.2" cy="562.5" r="1.05"/><circle cx="653.3" cy="562.5" r="1.05"/><circle cx="672.4" cy="562.5" r="1.05"/><circle cx="691.5" cy="562.5" r="1.05"/><circle cx="710.6" cy="562.5" r="1.05"/><circle cx="729.7" cy="562.5" r="1.05"/><circle cx="748.8" cy="562.5" r="1.05"/><circle cx="767.9" cy="562.5" r="1.05"/><circle cx="787" cy="562.5" r="1.05"/><circle cx="806.1" cy="562.5" r="1.05"/><circle cx="825.2" cy="562.5" r="1.05"/><circle cx="844.3" cy="562.5" r="1.05"/><circle cx="328.6" cy="581.56" r="1.05"/><circle cx="347.7" cy="581.56" r="1.05"/><circle cx="366.8" cy="581.56" r="1.05"/><circle cx="385.9" cy="581.56" r="1.05"/><circle cx="405" cy="581.56" r="1.05"/><circle cx="424.1" cy="581.56" r="1.05"/><circle cx="443.2" cy="581.56" r="1.05"/><circle cx="462.3" cy="581.56" r="1.05"/><circle cx="481.4" cy="581.56" r="1.05"/><circle cx="500.5" cy="581.56" r="1.05"/><circle cx="519.6" cy="581.56" r="1.05"/><circle cx="538.7" cy="581.56" r="1.05"/><circle cx="557.8" cy="581.56" r="1.05"/><circle cx="576.9" cy="581.56" r="1.05"/><circle cx="596" cy="581.56" r="1.05"/><circle cx="615.1" cy="581.56" r="1.05"/><circle cx="634.2" cy="581.56" r="1.05"/><circle cx="653.3" cy="581.56" r="1.05"/><circle cx="672.4" cy="581.56" r="1.05"/><circle cx="691.5" cy="581.56" r="1.05"/><circle cx="710.6" cy="581.56" r="1.05"/><circle cx="729.7" cy="581.56" r="1.05"/><circle cx="748.8" cy="581.56" r="1.05"/><circle cx="767.9" cy="581.56" r="1.05"/><circle cx="787" cy="581.56" r="1.05"/><circle cx="806.1" cy="581.56" r="1.05"/><circle cx="825.2" cy="581.56" r="1.05"/><circle cx="844.3" cy="581.56" r="1.05"/><circle cx="328.6" cy="600.62" r="1.05"/><circle cx="347.7" cy="600.62" r="1.05"/><circle cx="366.8" cy="600.62" r="1.05"/><circle cx="385.9" cy="600.62" r="1.05"/><circle cx="405" cy="600.62" r="1.05"/><circle cx="424.1" cy="600.62" r="1.05"/><circle cx="443.2" cy="600.62" r="1.05"/><circle cx="462.3" cy="600.62" r="1.05"/><circle cx="481.4" cy="600.62" r="1.05"/><circle cx="500.5" cy="600.62" r="1.05"/><circle cx="519.6" cy="600.62" r="1.05"/><circle cx="538.7" cy="600.62" r="1.05"/><circle cx="557.8" cy="600.62" r="1.05"/><circle cx="576.9" cy="600.62" r="1.05"/><circle cx="596" cy="600.62" r="1.05"/><circle cx="615.1" cy="600.62" r="1.05"/><circle cx="634.2" cy="600.62" r="1.05"/><circle cx="653.3" cy="600.62" r="1.05"/><circle cx="672.4" cy="600.62" r="1.05"/><circle cx="691.5" cy="600.62" r="1.05"/><circle cx="710.6" cy="600.62" r="1.05"/><circle cx="729.7" cy="600.62" r="1.05"/><circle cx="748.8" cy="600.62" r="1.05"/><circle cx="767.9" cy="600.62" r="1.05"/><circle cx="787" cy="600.62" r="1.05"/><circle cx="806.1" cy="600.62" r="1.05"/><circle cx="825.2" cy="600.62" r="1.05"/><circle cx="844.3" cy="600.62" r="1.05"/><circle cx="328.6" cy="619.68" r="1.05"/><circle cx="347.7" cy="619.68" r="1.05"/><circle cx="366.8" cy="619.68" r="1.05"/><circle cx="385.9" cy="619.68" r="1.05"/><circle cx="405" cy="619.68" r="1.05"/><circle cx="424.1" cy="619.68" r="1.05"/><circle cx="443.2" cy="619.68" r="1.05"/><circle cx="462.3" cy="619.68" r="1.05"/><circle cx="481.4" cy="619.68" r="1.05"/><circle cx="500.5" cy="619.68" r="1.05"/><circle cx="519.6" cy="619.68" r="1.05"/><circle cx="538.7" cy="619.68" r="1.05"/><circle cx="557.8" cy="619.68" r="1.05"/><circle cx="576.9" cy="619.68" r="1.05"/><circle cx="596" cy="619.68" r="1.05"/><circle cx="615.1" cy="619.68" r="1.05"/><circle cx="634.2" cy="619.68" r="1.05"/><circle cx="653.3" cy="619.68" r="1.05"/><circle cx="672.4" cy="619.68" r="1.05"/><circle cx="691.5" cy="619.68" r="1.05"/><circle cx="710.6" cy="619.68" r="1.05"/><circle cx="729.7" cy="619.68" r="1.05"/><circle cx="748.8" cy="619.68" r="1.05"/><circle cx="767.9" cy="619.68" r="1.05"/><circle cx="787" cy="619.68" r="1.05"/><circle cx="806.1" cy="619.68" r="1.05"/><circle cx="825.2" cy="619.68" r="1.05"/><circle cx="844.3" cy="619.68" r="1.05"/><circle cx="328.6" cy="638.74" r="1.05"/><circle cx="347.7" cy="638.74" r="1.05"/><circle cx="366.8" cy="638.74" r="1.05"/><circle cx="385.9" cy="638.74" r="1.05"/><circle cx="405" cy="638.74" r="1.05"/><circle cx="424.1" cy="638.74" r="1.05"/><circle cx="443.2" cy="638.74" r="1.05"/><circle cx="462.3" cy="638.74" r="1.05"/><circle cx="481.4" cy="638.74" r="1.05"/><circle cx="500.5" cy="638.74" r="1.05"/><circle cx="519.6" cy="638.74" r="1.05"/><circle cx="538.7" cy="638.74" r="1.05"/><circle cx="557.8" cy="638.74" r="1.05"/><circle cx="576.9" cy="638.74" r="1.05"/><circle cx="596" cy="638.74" r="1.05"/><circle cx="615.1" cy="638.74" r="1.05"/><circle cx="634.2" cy="638.74" r="1.05"/><circle cx="653.3" cy="638.74" r="1.05"/><circle cx="672.4" cy="638.74" r="1.05"/><circle cx="691.5" cy="638.74" r="1.05"/><circle cx="710.6" cy="638.74" r="1.05"/><circle cx="729.7" cy="638.74" r="1.05"/><circle cx="748.8" cy="638.74" r="1.05"/><circle cx="767.9" cy="638.74" r="1.05"/><circle cx="787" cy="638.74" r="1.05"/><circle cx="806.1" cy="638.74" r="1.05"/><circle cx="825.2" cy="638.74" r="1.05"/><circle cx="844.3" cy="638.74" r="1.05"/><circle cx="328.6" cy="657.8" r="1.05"/><circle cx="347.7" cy="657.8" r="1.05"/><circle cx="366.8" cy="657.8" r="1.05"/><circle cx="385.9" cy="657.8" r="1.05"/><circle cx="405" cy="657.8" r="1.05"/><circle cx="424.1" cy="657.8" r="1.05"/><circle cx="443.2" cy="657.8" r="1.05"/><circle cx="462.3" cy="657.8" r="1.05"/><circle cx="481.4" cy="657.8" r="1.05"/><circle cx="500.5" cy="657.8" r="1.05"/><circle cx="519.6" cy="657.8" r="1.05"/><circle cx="538.7" cy="657.8" r="1.05"/><circle cx="557.8" cy="657.8" r="1.05"/><circle cx="576.9" cy="657.8" r="1.05"/><circle cx="596" cy="657.8" r="1.05"/><circle cx="615.1" cy="657.8" r="1.05"/><circle cx="634.2" cy="657.8" r="1.05"/><circle cx="653.3" cy="657.8" r="1.05"/><circle cx="672.4" cy="657.8" r="1.05"/><circle cx="691.5" cy="657.8" r="1.05"/><circle cx="710.6" cy="657.8" r="1.05"/><circle cx="729.7" cy="657.8" r="1.05"/><circle cx="748.8" cy="657.8" r="1.05"/><circle cx="767.9" cy="657.8" r="1.05"/><circle cx="787" cy="657.8" r="1.05"/><circle cx="806.1" cy="657.8" r="1.05"/><circle cx="825.2" cy="657.8" r="1.05"/><circle cx="844.3" cy="657.8" r="1.05"/><circle cx="328.6" cy="676.86" r="1.05"/><circle cx="347.7" cy="676.86" r="1.05"/><circle cx="366.8" cy="676.86" r="1.05"/><circle cx="385.9" cy="676.86" r="1.05"/><circle cx="405" cy="676.86" r="1.05"/><circle cx="424.1" cy="676.86" r="1.05"/><circle cx="443.2" cy="676.86" r="1.05"/><circle cx="462.3" cy="676.86" r="1.05"/><circle cx="481.4" cy="676.86" r="1.05"/><circle cx="500.5" cy="676.86" r="1.05"/><circle cx="519.6" cy="676.86" r="1.05"/><circle cx="538.7" cy="676.86" r="1.05"/><circle cx="557.8" cy="676.86" r="1.05"/><circle cx="576.9" cy="676.86" r="1.05"/><circle cx="596" cy="676.86" r="1.05"/><circle cx="615.1" cy="676.86" r="1.05"/><circle cx="634.2" cy="676.86" r="1.05"/><circle cx="653.3" cy="676.86" r="1.05"/><circle cx="672.4" cy="676.86" r="1.05"/><circle cx="691.5" cy="676.86" r="1.05"/><circle cx="710.6" cy="676.86" r="1.05"/><circle cx="729.7" cy="676.86" r="1.05"/><circle cx="748.8" cy="676.86" r="1.05"/><circle cx="767.9" cy="676.86" r="1.05"/><circle cx="787" cy="676.86" r="1.05"/><circle cx="806.1" cy="676.86" r="1.05"/><circle cx="825.2" cy="676.86" r="1.05"/><circle cx="844.3" cy="676.86" r="1.05"/><circle cx="328.6" cy="695.92" r="1.05"/><circle cx="347.7" cy="695.92" r="1.05"/><circle cx="366.8" cy="695.92" r="1.05"/><circle cx="385.9" cy="695.92" r="1.05"/><circle cx="405" cy="695.92" r="1.05"/><circle cx="424.1" cy="695.92" r="1.05"/><circle cx="443.2" cy="695.92" r="1.05"/><circle cx="462.3" cy="695.92" r="1.05"/><circle cx="481.4" cy="695.92" r="1.05"/><circle cx="500.5" cy="695.92" r="1.05"/><circle cx="519.6" cy="695.92" r="1.05"/><circle cx="538.7" cy="695.92" r="1.05"/><circle cx="557.8" cy="695.92" r="1.05"/><circle cx="576.9" cy="695.92" r="1.05"/><circle cx="596" cy="695.92" r="1.05"/><circle cx="615.1" cy="695.92" r="1.05"/><circle cx="634.2" cy="695.92" r="1.05"/><circle cx="653.3" cy="695.92" r="1.05"/><circle cx="672.4" cy="695.92" r="1.05"/><circle cx="691.5" cy="695.92" r="1.05"/><circle cx="710.6" cy="695.92" r="1.05"/><circle cx="729.7" cy="695.92" r="1.05"/><circle cx="748.8" cy="695.92" r="1.05"/><circle cx="767.9" cy="695.92" r="1.05"/><circle cx="787" cy="695.92" r="1.05"/><circle cx="806.1" cy="695.92" r="1.05"/><circle cx="825.2" cy="695.92" r="1.05"/><circle cx="844.3" cy="695.92" r="1.05"/><circle cx="328.6" cy="714.98" r="1.05"/><circle cx="347.7" cy="714.98" r="1.05"/><circle cx="366.8" cy="714.98" r="1.05"/><circle cx="385.9" cy="714.98" r="1.05"/><circle cx="405" cy="714.98" r="1.05"/><circle cx="424.1" cy="714.98" r="1.05"/><circle cx="443.2" cy="714.98" r="1.05"/><circle cx="462.3" cy="714.98" r="1.05"/><circle cx="481.4" cy="714.98" r="1.05"/><circle cx="500.5" cy="714.98" r="1.05"/><circle cx="519.6" cy="714.98" r="1.05"/><circle cx="538.7" cy="714.98" r="1.05"/><circle cx="557.8" cy="714.98" r="1.05"/><circle cx="576.9" cy="714.98" r="1.05"/><circle cx="596" cy="714.98" r="1.05"/><circle cx="615.1" cy="714.98" r="1.05"/><circle cx="634.2" cy="714.98" r="1.05"/><circle cx="653.3" cy="714.98" r="1.05"/><circle cx="672.4" cy="714.98" r="1.05"/><circle cx="691.5" cy="714.98" r="1.05"/><circle cx="710.6" cy="714.98" r="1.05"/><circle cx="729.7" cy="714.98" r="1.05"/><circle cx="748.8" cy="714.98" r="1.05"/><circle cx="767.9" cy="714.98" r="1.05"/><circle cx="787" cy="714.98" r="1.05"/><circle cx="806.1" cy="714.98" r="1.05"/><circle cx="825.2" cy="714.98" r="1.05"/><circle cx="844.3" cy="714.98" r="1.05"/><circle cx="328.6" cy="734.04" r="1.05"/><circle cx="347.7" cy="734.04" r="1.05"/><circle cx="366.8" cy="734.04" r="1.05"/><circle cx="385.9" cy="734.04" r="1.05"/><circle cx="405" cy="734.04" r="1.05"/><circle cx="424.1" cy="734.04" r="1.05"/><circle cx="443.2" cy="734.04" r="1.05"/><circle cx="462.3" cy="734.04" r="1.05"/><circle cx="481.4" cy="734.04" r="1.05"/><circle cx="500.5" cy="734.04" r="1.05"/><circle cx="519.6" cy="734.04" r="1.05"/><circle cx="538.7" cy="734.04" r="1.05"/><circle cx="557.8" cy="734.04" r="1.05"/><circle cx="576.9" cy="734.04" r="1.05"/><circle cx="596" cy="734.04" r="1.05"/><circle cx="615.1" cy="734.04" r="1.05"/><circle cx="634.2" cy="734.04" r="1.05"/><circle cx="653.3" cy="734.04" r="1.05"/><circle cx="672.4" cy="734.04" r="1.05"/><circle cx="691.5" cy="734.04" r="1.05"/><circle cx="710.6" cy="734.04" r="1.05"/><circle cx="729.7" cy="734.04" r="1.05"/><circle cx="748.8" cy="734.04" r="1.05"/><circle cx="767.9" cy="734.04" r="1.05"/><circle cx="787" cy="734.04" r="1.05"/><circle cx="806.1" cy="734.04" r="1.05"/><circle cx="825.2" cy="734.04" r="1.05"/><circle cx="844.3" cy="734.04" r="1.05"/><circle cx="328.6" cy="753.1" r="1.05"/><circle cx="347.7" cy="753.1" r="1.05"/><circle cx="366.8" cy="753.1" r="1.05"/><circle cx="385.9" cy="753.1" r="1.05"/><circle cx="405" cy="753.1" r="1.05"/><circle cx="424.1" cy="753.1" r="1.05"/><circle cx="443.2" cy="753.1" r="1.05"/><circle cx="462.3" cy="753.1" r="1.05"/><circle cx="481.4" cy="753.1" r="1.05"/><circle cx="500.5" cy="753.1" r="1.05"/><circle cx="519.6" cy="753.1" r="1.05"/><circle cx="538.7" cy="753.1" r="1.05"/><circle cx="557.8" cy="753.1" r="1.05"/><circle cx="576.9" cy="753.1" r="1.05"/><circle cx="596" cy="753.1" r="1.05"/><circle cx="615.1" cy="753.1" r="1.05"/><circle cx="634.2" cy="753.1" r="1.05"/><circle cx="653.3" cy="753.1" r="1.05"/><circle cx="672.4" cy="753.1" r="1.05"/><circle cx="691.5" cy="753.1" r="1.05"/><circle cx="710.6" cy="753.1" r="1.05"/><circle cx="729.7" cy="753.1" r="1.05"/><circle cx="748.8" cy="753.1" r="1.05"/><circle cx="767.9" cy="753.1" r="1.05"/><circle cx="787" cy="753.1" r="1.05"/><circle cx="806.1" cy="753.1" r="1.05"/><circle cx="825.2" cy="753.1" r="1.05"/><circle cx="844.3" cy="753.1" r="1.05"/><circle cx="328.6" cy="772.16" r="1.05"/><circle cx="347.7" cy="772.16" r="1.05"/><circle cx="366.8" cy="772.16" r="1.05"/><circle cx="385.9" cy="772.16" r="1.05"/><circle cx="405" cy="772.16" r="1.05"/><circle cx="424.1" cy="772.16" r="1.05"/><circle cx="443.2" cy="772.16" r="1.05"/><circle cx="462.3" cy="772.16" r="1.05"/><circle cx="481.4" cy="772.16" r="1.05"/><circle cx="500.5" cy="772.16" r="1.05"/><circle cx="519.6" cy="772.16" r="1.05"/><circle cx="538.7" cy="772.16" r="1.05"/><circle cx="557.8" cy="772.16" r="1.05"/><circle cx="576.9" cy="772.16" r="1.05"/><circle cx="596" cy="772.16" r="1.05"/><circle cx="615.1" cy="772.16" r="1.05"/><circle cx="634.2" cy="772.16" r="1.05"/><circle cx="653.3" cy="772.16" r="1.05"/><circle cx="672.4" cy="772.16" r="1.05"/><circle cx="691.5" cy="772.16" r="1.05"/><circle cx="710.6" cy="772.16" r="1.05"/><circle cx="729.7" cy="772.16" r="1.05"/><circle cx="748.8" cy="772.16" r="1.05"/><circle cx="767.9" cy="772.16" r="1.05"/><circle cx="787" cy="772.16" r="1.05"/><circle cx="806.1" cy="772.16" r="1.05"/><circle cx="825.2" cy="772.16" r="1.05"/><circle cx="844.3" cy="772.16" r="1.05"/><circle cx="328.6" cy="791.22" r="1.05"/><circle cx="347.7" cy="791.22" r="1.05"/><circle cx="366.8" cy="791.22" r="1.05"/><circle cx="385.9" cy="791.22" r="1.05"/><circle cx="405" cy="791.22" r="1.05"/><circle cx="424.1" cy="791.22" r="1.05"/><circle cx="443.2" cy="791.22" r="1.05"/><circle cx="462.3" cy="791.22" r="1.05"/><circle cx="481.4" cy="791.22" r="1.05"/><circle cx="500.5" cy="791.22" r="1.05"/><circle cx="519.6" cy="791.22" r="1.05"/><circle cx="538.7" cy="791.22" r="1.05"/><circle cx="557.8" cy="791.22" r="1.05"/><circle cx="576.9" cy="791.22" r="1.05"/><circle cx="596" cy="791.22" r="1.05"/><circle cx="615.1" cy="791.22" r="1.05"/><circle cx="634.2" cy="791.22" r="1.05"/><circle cx="653.3" cy="791.22" r="1.05"/><circle cx="672.4" cy="791.22" r="1.05"/><circle cx="691.5" cy="791.22" r="1.05"/><circle cx="710.6" cy="791.22" r="1.05"/><circle cx="729.7" cy="791.22" r="1.05"/><circle cx="748.8" cy="791.22" r="1.05"/><circle cx="767.9" cy="791.22" r="1.05"/><circle cx="787" cy="791.22" r="1.05"/><circle cx="806.1" cy="791.22" r="1.05"/><circle cx="825.2" cy="791.22" r="1.05"/><circle cx="844.3" cy="791.22" r="1.05"/><circle cx="328.6" cy="810.28" r="1.05"/><circle cx="347.7" cy="810.28" r="1.05"/><circle cx="366.8" cy="810.28" r="1.05"/><circle cx="385.9" cy="810.28" r="1.05"/><circle cx="405" cy="810.28" r="1.05"/><circle cx="424.1" cy="810.28" r="1.05"/><circle cx="443.2" cy="810.28" r="1.05"/><circle cx="462.3" cy="810.28" r="1.05"/><circle cx="481.4" cy="810.28" r="1.05"/><circle cx="500.5" cy="810.28" r="1.05"/><circle cx="519.6" cy="810.28" r="1.05"/><circle cx="538.7" cy="810.28" r="1.05"/><circle cx="557.8" cy="810.28" r="1.05"/><circle cx="576.9" cy="810.28" r="1.05"/><circle cx="596" cy="810.28" r="1.05"/><circle cx="615.1" cy="810.28" r="1.05"/><circle cx="634.2" cy="810.28" r="1.05"/><circle cx="653.3" cy="810.28" r="1.05"/><circle cx="672.4" cy="810.28" r="1.05"/><circle cx="691.5" cy="810.28" r="1.05"/><circle cx="710.6" cy="810.28" r="1.05"/><circle cx="729.7" cy="810.28" r="1.05"/><circle cx="748.8" cy="810.28" r="1.05"/><circle cx="767.9" cy="810.28" r="1.05"/><circle cx="787" cy="810.28" r="1.05"/><circle cx="806.1" cy="810.28" r="1.05"/><circle cx="825.2" cy="810.28" r="1.05"/><circle cx="844.3" cy="810.28" r="1.05"/><circle cx="328.6" cy="829.34" r="1.05"/><circle cx="347.7" cy="829.34" r="1.05"/><circle cx="366.8" cy="829.34" r="1.05"/><circle cx="385.9" cy="829.34" r="1.05"/><circle cx="405" cy="829.34" r="1.05"/><circle cx="424.1" cy="829.34" r="1.05"/><circle cx="443.2" cy="829.34" r="1.05"/><circle cx="462.3" cy="829.34" r="1.05"/><circle cx="481.4" cy="829.34" r="1.05"/><circle cx="500.5" cy="829.34" r="1.05"/><circle cx="519.6" cy="829.34" r="1.05"/><circle cx="538.7" cy="829.34" r="1.05"/><circle cx="557.8" cy="829.34" r="1.05"/><circle cx="576.9" cy="829.34" r="1.05"/><circle cx="596" cy="829.34" r="1.05"/><circle cx="615.1" cy="829.34" r="1.05"/><circle cx="634.2" cy="829.34" r="1.05"/><circle cx="653.3" cy="829.34" r="1.05"/><circle cx="672.4" cy="829.34" r="1.05"/><circle cx="691.5" cy="829.34" r="1.05"/><circle cx="710.6" cy="829.34" r="1.05"/><circle cx="729.7" cy="829.34" r="1.05"/><circle cx="748.8" cy="829.34" r="1.05"/><circle cx="767.9" cy="829.34" r="1.05"/><circle cx="787" cy="829.34" r="1.05"/><circle cx="806.1" cy="829.34" r="1.05"/><circle cx="825.2" cy="829.34" r="1.05"/><circle cx="844.3" cy="829.34" r="1.05"/><circle cx="328.6" cy="848.4" r="1.05"/><circle cx="347.7" cy="848.4" r="1.05"/><circle cx="366.8" cy="848.4" r="1.05"/><circle cx="385.9" cy="848.4" r="1.05"/><circle cx="405" cy="848.4" r="1.05"/><circle cx="424.1" cy="848.4" r="1.05"/><circle cx="443.2" cy="848.4" r="1.05"/><circle cx="462.3" cy="848.4" r="1.05"/><circle cx="481.4" cy="848.4" r="1.05"/><circle cx="500.5" cy="848.4" r="1.05"/><circle cx="519.6" cy="848.4" r="1.05"/><circle cx="538.7" cy="848.4" r="1.05"/><circle cx="557.8" cy="848.4" r="1.05"/><circle cx="576.9" cy="848.4" r="1.05"/><circle cx="596" cy="848.4" r="1.05"/><circle cx="615.1" cy="848.4" r="1.05"/><circle cx="634.2" cy="848.4" r="1.05"/><circle cx="653.3" cy="848.4" r="1.05"/><circle cx="672.4" cy="848.4" r="1.05"/><circle cx="691.5" cy="848.4" r="1.05"/><circle cx="710.6" cy="848.4" r="1.05"/><circle cx="729.7" cy="848.4" r="1.05"/><circle cx="748.8" cy="848.4" r="1.05"/><circle cx="767.9" cy="848.4" r="1.05"/><circle cx="787" cy="848.4" r="1.05"/><circle cx="806.1" cy="848.4" r="1.05"/><circle cx="825.2" cy="848.4" r="1.05"/><circle cx="844.3" cy="848.4" r="1.05"/><circle cx="328.6" cy="867.46" r="1.05"/><circle cx="347.7" cy="867.46" r="1.05"/><circle cx="366.8" cy="867.46" r="1.05"/><circle cx="385.9" cy="867.46" r="1.05"/><circle cx="405" cy="867.46" r="1.05"/><circle cx="424.1" cy="867.46" r="1.05"/><circle cx="443.2" cy="867.46" r="1.05"/><circle cx="462.3" cy="867.46" r="1.05"/><circle cx="481.4" cy="867.46" r="1.05"/><circle cx="500.5" cy="867.46" r="1.05"/><circle cx="519.6" cy="867.46" r="1.05"/><circle cx="538.7" cy="867.46" r="1.05"/><circle cx="557.8" cy="867.46" r="1.05"/><circle cx="576.9" cy="867.46" r="1.05"/><circle cx="596" cy="867.46" r="1.05"/><circle cx="615.1" cy="867.46" r="1.05"/><circle cx="634.2" cy="867.46" r="1.05"/><circle cx="653.3" cy="867.46" r="1.05"/><circle cx="672.4" cy="867.46" r="1.05"/><circle cx="691.5" cy="867.46" r="1.05"/><circle cx="710.6" cy="867.46" r="1.05"/><circle cx="729.7" cy="867.46" r="1.05"/><circle cx="748.8" cy="867.46" r="1.05"/><circle cx="767.9" cy="867.46" r="1.05"/><circle cx="787" cy="867.46" r="1.05"/><circle cx="806.1" cy="867.46" r="1.05"/><circle cx="825.2" cy="867.46" r="1.05"/><circle cx="844.3" cy="867.46" r="1.05"/><circle cx="328.6" cy="886.52" r="1.05"/><circle cx="347.7" cy="886.52" r="1.05"/><circle cx="366.8" cy="886.52" r="1.05"/><circle cx="385.9" cy="886.52" r="1.05"/><circle cx="405" cy="886.52" r="1.05"/><circle cx="424.1" cy="886.52" r="1.05"/><circle cx="443.2" cy="886.52" r="1.05"/><circle cx="462.3" cy="886.52" r="1.05"/><circle cx="481.4" cy="886.52" r="1.05"/><circle cx="500.5" cy="886.52" r="1.05"/><circle cx="519.6" cy="886.52" r="1.05"/><circle cx="538.7" cy="886.52" r="1.05"/><circle cx="557.8" cy="886.52" r="1.05"/><circle cx="576.9" cy="886.52" r="1.05"/><circle cx="596" cy="886.52" r="1.05"/><circle cx="615.1" cy="886.52" r="1.05"/><circle cx="634.2" cy="886.52" r="1.05"/><circle cx="653.3" cy="886.52" r="1.05"/><circle cx="672.4" cy="886.52" r="1.05"/><circle cx="691.5" cy="886.52" r="1.05"/><circle cx="710.6" cy="886.52" r="1.05"/><circle cx="729.7" cy="886.52" r="1.05"/><circle cx="748.8" cy="886.52" r="1.05"/><circle cx="767.9" cy="886.52" r="1.05"/><circle cx="787" cy="886.52" r="1.05"/><circle cx="806.1" cy="886.52" r="1.05"/><circle cx="825.2" cy="886.52" r="1.05"/><circle cx="844.3" cy="886.52" r="1.05"/><circle cx="328.6" cy="905.58" r="1.05"/><circle cx="347.7" cy="905.58" r="1.05"/><circle cx="366.8" cy="905.58" r="1.05"/><circle cx="385.9" cy="905.58" r="1.05"/><circle cx="405" cy="905.58" r="1.05"/><circle cx="424.1" cy="905.58" r="1.05"/><circle cx="443.2" cy="905.58" r="1.05"/><circle cx="462.3" cy="905.58" r="1.05"/><circle cx="481.4" cy="905.58" r="1.05"/><circle cx="500.5" cy="905.58" r="1.05"/><circle cx="519.6" cy="905.58" r="1.05"/><circle cx="538.7" cy="905.58" r="1.05"/><circle cx="557.8" cy="905.58" r="1.05"/><circle cx="576.9" cy="905.58" r="1.05"/><circle cx="596" cy="905.58" r="1.05"/><circle cx="615.1" cy="905.58" r="1.05"/><circle cx="634.2" cy="905.58" r="1.05"/><circle cx="653.3" cy="905.58" r="1.05"/><circle cx="672.4" cy="905.58" r="1.05"/><circle cx="691.5" cy="905.58" r="1.05"/><circle cx="710.6" cy="905.58" r="1.05"/><circle cx="729.7" cy="905.58" r="1.05"/><circle cx="748.8" cy="905.58" r="1.05"/><circle cx="767.9" cy="905.58" r="1.05"/><circle cx="787" cy="905.58" r="1.05"/><circle cx="806.1" cy="905.58" r="1.05"/><circle cx="825.2" cy="905.58" r="1.05"/><circle cx="844.3" cy="905.58" r="1.05"/><circle cx="328.6" cy="924.64" r="1.05"/><circle cx="347.7" cy="924.64" r="1.05"/><circle cx="366.8" cy="924.64" r="1.05"/><circle cx="385.9" cy="924.64" r="1.05"/><circle cx="405" cy="924.64" r="1.05"/><circle cx="424.1" cy="924.64" r="1.05"/><circle cx="443.2" cy="924.64" r="1.05"/><circle cx="462.3" cy="924.64" r="1.05"/><circle cx="481.4" cy="924.64" r="1.05"/><circle cx="500.5" cy="924.64" r="1.05"/><circle cx="519.6" cy="924.64" r="1.05"/><circle cx="538.7" cy="924.64" r="1.05"/><circle cx="557.8" cy="924.64" r="1.05"/><circle cx="576.9" cy="924.64" r="1.05"/><circle cx="596" cy="924.64" r="1.05"/><circle cx="615.1" cy="924.64" r="1.05"/><circle cx="634.2" cy="924.64" r="1.05"/><circle cx="653.3" cy="924.64" r="1.05"/><circle cx="672.4" cy="924.64" r="1.05"/><circle cx="691.5" cy="924.64" r="1.05"/><circle cx="710.6" cy="924.64" r="1.05"/><circle cx="729.7" cy="924.64" r="1.05"/><circle cx="748.8" cy="924.64" r="1.05"/><circle cx="767.9" cy="924.64" r="1.05"/><circle cx="787" cy="924.64" r="1.05"/><circle cx="806.1" cy="924.64" r="1.05"/><circle cx="825.2" cy="924.64" r="1.05"/><circle cx="844.3" cy="924.64" r="1.05"/><circle cx="328.6" cy="943.7" r="1.05"/><circle cx="347.7" cy="943.7" r="1.05"/><circle cx="366.8" cy="943.7" r="1.05"/><circle cx="385.9" cy="943.7" r="1.05"/><circle cx="405" cy="943.7" r="1.05"/><circle cx="424.1" cy="943.7" r="1.05"/><circle cx="443.2" cy="943.7" r="1.05"/><circle cx="462.3" cy="943.7" r="1.05"/><circle cx="481.4" cy="943.7" r="1.05"/><circle cx="500.5" cy="943.7" r="1.05"/><circle cx="519.6" cy="943.7" r="1.05"/><circle cx="538.7" cy="943.7" r="1.05"/><circle cx="557.8" cy="943.7" r="1.05"/><circle cx="576.9" cy="943.7" r="1.05"/><circle cx="596" cy="943.7" r="1.05"/><circle cx="615.1" cy="943.7" r="1.05"/><circle cx="634.2" cy="943.7" r="1.05"/><circle cx="653.3" cy="943.7" r="1.05"/><circle cx="672.4" cy="943.7" r="1.05"/><circle cx="691.5" cy="943.7" r="1.05"/><circle cx="710.6" cy="943.7" r="1.05"/><circle cx="729.7" cy="943.7" r="1.05"/><circle cx="748.8" cy="943.7" r="1.05"/><circle cx="767.9" cy="943.7" r="1.05"/><circle cx="787" cy="943.7" r="1.05"/><circle cx="806.1" cy="943.7" r="1.05"/><circle cx="825.2" cy="943.7" r="1.05"/><circle cx="844.3" cy="943.7" r="1.05"/><circle cx="328.6" cy="962.76" r="1.05"/><circle cx="347.7" cy="962.76" r="1.05"/><circle cx="366.8" cy="962.76" r="1.05"/><circle cx="385.9" cy="962.76" r="1.05"/><circle cx="405" cy="962.76" r="1.05"/><circle cx="424.1" cy="962.76" r="1.05"/><circle cx="443.2" cy="962.76" r="1.05"/><circle cx="462.3" cy="962.76" r="1.05"/><circle cx="481.4" cy="962.76" r="1.05"/><circle cx="500.5" cy="962.76" r="1.05"/><circle cx="519.6" cy="962.76" r="1.05"/><circle cx="538.7" cy="962.76" r="1.05"/><circle cx="557.8" cy="962.76" r="1.05"/><circle cx="576.9" cy="962.76" r="1.05"/><circle cx="596" cy="962.76" r="1.05"/><circle cx="615.1" cy="962.76" r="1.05"/><circle cx="634.2" cy="962.76" r="1.05"/><circle cx="653.3" cy="962.76" r="1.05"/><circle cx="672.4" cy="962.76" r="1.05"/><circle cx="691.5" cy="962.76" r="1.05"/><circle cx="710.6" cy="962.76" r="1.05"/><circle cx="729.7" cy="962.76" r="1.05"/><circle cx="748.8" cy="962.76" r="1.05"/><circle cx="767.9" cy="962.76" r="1.05"/><circle cx="787" cy="962.76" r="1.05"/><circle cx="806.1" cy="962.76" r="1.05"/><circle cx="825.2" cy="962.76" r="1.05"/><circle cx="844.3" cy="962.76" r="1.05"/><circle cx="328.6" cy="981.82" r="1.05"/><circle cx="347.7" cy="981.82" r="1.05"/><circle cx="366.8" cy="981.82" r="1.05"/><circle cx="385.9" cy="981.82" r="1.05"/><circle cx="405" cy="981.82" r="1.05"/><circle cx="424.1" cy="981.82" r="1.05"/><circle cx="443.2" cy="981.82" r="1.05"/><circle cx="462.3" cy="981.82" r="1.05"/><circle cx="481.4" cy="981.82" r="1.05"/><circle cx="500.5" cy="981.82" r="1.05"/><circle cx="519.6" cy="981.82" r="1.05"/><circle cx="538.7" cy="981.82" r="1.05"/><circle cx="557.8" cy="981.82" r="1.05"/><circle cx="576.9" cy="981.82" r="1.05"/><circle cx="596" cy="981.82" r="1.05"/><circle cx="615.1" cy="981.82" r="1.05"/><circle cx="634.2" cy="981.82" r="1.05"/><circle cx="653.3" cy="981.82" r="1.05"/><circle cx="672.4" cy="981.82" r="1.05"/><circle cx="691.5" cy="981.82" r="1.05"/><circle cx="710.6" cy="981.82" r="1.05"/><circle cx="729.7" cy="981.82" r="1.05"/><circle cx="748.8" cy="981.82" r="1.05"/><circle cx="767.9" cy="981.82" r="1.05"/><circle cx="787" cy="981.82" r="1.05"/><circle cx="806.1" cy="981.82" r="1.05"/><circle cx="825.2" cy="981.82" r="1.05"/><circle cx="844.3" cy="981.82" r="1.05"/><circle cx="328.6" cy="1000.88" r="1.05"/><circle cx="347.7" cy="1000.88" r="1.05"/><circle cx="366.8" cy="1000.88" r="1.05"/><circle cx="385.9" cy="1000.88" r="1.05"/><circle cx="405" cy="1000.88" r="1.05"/><circle cx="424.1" cy="1000.88" r="1.05"/><circle cx="443.2" cy="1000.88" r="1.05"/><circle cx="462.3" cy="1000.88" r="1.05"/><circle cx="481.4" cy="1000.88" r="1.05"/><circle cx="500.5" cy="1000.88" r="1.05"/><circle cx="519.6" cy="1000.88" r="1.05"/><circle cx="538.7" cy="1000.88" r="1.05"/><circle cx="557.8" cy="1000.88" r="1.05"/><circle cx="576.9" cy="1000.88" r="1.05"/><circle cx="596" cy="1000.88" r="1.05"/><circle cx="615.1" cy="1000.88" r="1.05"/><circle cx="634.2" cy="1000.88" r="1.05"/><circle cx="653.3" cy="1000.88" r="1.05"/><circle cx="672.4" cy="1000.88" r="1.05"/><circle cx="691.5" cy="1000.88" r="1.05"/><circle cx="710.6" cy="1000.88" r="1.05"/><circle cx="729.7" cy="1000.88" r="1.05"/><circle cx="748.8" cy="1000.88" r="1.05"/><circle cx="767.9" cy="1000.88" r="1.05"/><circle cx="787" cy="1000.88" r="1.05"/><circle cx="806.1" cy="1000.88" r="1.05"/><circle cx="825.2" cy="1000.88" r="1.05"/><circle cx="844.3" cy="1000.88" r="1.05"/><circle cx="328.6" cy="1019.94" r="1.05"/><circle cx="347.7" cy="1019.94" r="1.05"/><circle cx="366.8" cy="1019.94" r="1.05"/><circle cx="385.9" cy="1019.94" r="1.05"/><circle cx="405" cy="1019.94" r="1.05"/><circle cx="424.1" cy="1019.94" r="1.05"/><circle cx="443.2" cy="1019.94" r="1.05"/><circle cx="462.3" cy="1019.94" r="1.05"/><circle cx="481.4" cy="1019.94" r="1.05"/><circle cx="500.5" cy="1019.94" r="1.05"/><circle cx="519.6" cy="1019.94" r="1.05"/><circle cx="538.7" cy="1019.94" r="1.05"/><circle cx="557.8" cy="1019.94" r="1.05"/><circle cx="576.9" cy="1019.94" r="1.05"/><circle cx="596" cy="1019.94" r="1.05"/><circle cx="615.1" cy="1019.94" r="1.05"/><circle cx="634.2" cy="1019.94" r="1.05"/><circle cx="653.3" cy="1019.94" r="1.05"/><circle cx="672.4" cy="1019.94" r="1.05"/><circle cx="691.5" cy="1019.94" r="1.05"/><circle cx="710.6" cy="1019.94" r="1.05"/><circle cx="729.7" cy="1019.94" r="1.05"/><circle cx="748.8" cy="1019.94" r="1.05"/><circle cx="767.9" cy="1019.94" r="1.05"/><circle cx="787" cy="1019.94" r="1.05"/><circle cx="806.1" cy="1019.94" r="1.05"/><circle cx="825.2" cy="1019.94" r="1.05"/><circle cx="844.3" cy="1019.94" r="1.05"/><circle cx="328.6" cy="1039" r="1.05"/><circle cx="347.7" cy="1039" r="1.05"/><circle cx="366.8" cy="1039" r="1.05"/><circle cx="385.9" cy="1039" r="1.05"/><circle cx="405" cy="1039" r="1.05"/><circle cx="424.1" cy="1039" r="1.05"/><circle cx="443.2" cy="1039" r="1.05"/><circle cx="462.3" cy="1039" r="1.05"/><circle cx="481.4" cy="1039" r="1.05"/><circle cx="500.5" cy="1039" r="1.05"/><circle cx="519.6" cy="1039" r="1.05"/><circle cx="538.7" cy="1039" r="1.05"/><circle cx="557.8" cy="1039" r="1.05"/><circle cx="576.9" cy="1039" r="1.05"/><circle cx="596" cy="1039" r="1.05"/><circle cx="615.1" cy="1039" r="1.05"/><circle cx="634.2" cy="1039" r="1.05"/><circle cx="653.3" cy="1039" r="1.05"/><circle cx="672.4" cy="1039" r="1.05"/><circle cx="691.5" cy="1039" r="1.05"/><circle cx="710.6" cy="1039" r="1.05"/><circle cx="729.7" cy="1039" r="1.05"/><circle cx="748.8" cy="1039" r="1.05"/><circle cx="767.9" cy="1039" r="1.05"/><circle cx="787" cy="1039" r="1.05"/><circle cx="806.1" cy="1039" r="1.05"/><circle cx="825.2" cy="1039" r="1.05"/><circle cx="844.3" cy="1039" r="1.05"/></g></svg></div>
<div class="pg" style="left:373px;top:302px;width:602px;height:815px;border-radius:10px 0 0 12px;box-shadow:-1px 0 1.2px rgba(0,0,0,0.13),0 0 0.6px rgba(70,40,20,0.30);"><span id="t74" class="t" style="left:46px;top:18.62px;font:bold 12.5px/12.5px 'Liberation Serif', serif;color:#585858;transform:scaleX(0.9777);transform-origin:0 0;">CONTACTS</span><div class="a" style="left:46px;top:38px;width:285px;height:22px;background:#448aab;border-radius:3px;"></div><div class="a" style="left:340px;top:38px;width:217px;height:22px;background:#448aab;border-radius:3px;"></div><svg class="a" style="left:0;top:0" width="602" height="815" viewBox="373 302 602 815"><rect x="423" y="344" width="19.3" height="13.8" fill="#2f6f84" stroke="#f4fbfd" stroke-width="2"/><polyline points="424,345 432.6,352 441.3,345" fill="none" stroke="#f4fbfd" stroke-width="1.6"/><line x1="424" y1="357" x2="430.5" y2="351" stroke="#f4fbfd" stroke-width="1.2"/><line x1="441.3" y1="357" x2="434.8" y2="351" stroke="#f4fbfd" stroke-width="1.2"/><path d="M719,344 q-3,2 -1,7 q2,5 6,6" fill="none" stroke="#fff" stroke-width="2.2"/></svg><div class="a" style="left:46px;top:60.8px;width:285px;height:23.5px;background:#fdfafa;"></div><div class="a" style="left:46px;top:84px;width:285px;height:1px;background:#b4b4b4;"></div><div class="a" style="left:46px;top:85.58px;width:285px;height:23.5px;background:#fdfafa;"></div><div class="a" style="left:46px;top:109px;width:285px;height:1px;background:#b4b4b4;"></div><div class="a" style="left:46px;top:110.36px;width:285px;height:23.5px;background:#fdfafa;"></div><div class="a" style="left:46px;top:133px;width:285px;height:1px;background:#b4b4b4;"></div><div class="a" style="left:46px;top:135.14px;width:285px;height:23.5px;background:#fdfafa;"></div><div class="a" style="left:46px;top:158px;width:285px;height:1px;background:#b4b4b4;"></div><div class="a" style="left:46px;top:159.92px;width:285px;height:23.5px;background:#fdfafa;"></div><div class="a" style="left:46px;top:183px;width:285px;height:1px;background:#b4b4b4;"></div><div class="a" style="left:46px;top:184.7px;width:285px;height:23.5px;background:#fdfafa;"></div><div class="a" style="left:46px;top:208px;width:285px;height:1px;background:#b4b4b4;"></div><div class="a" style="left:46px;top:209.48px;width:285px;height:23.5px;background:#fdfafa;"></div><div class="a" style="left:46px;top:232px;width:285px;height:1px;background:#b4b4b4;"></div><div class="a" style="left:46px;top:234.26px;width:285px;height:23.5px;background:#fdfafa;"></div><div class="a" style="left:46px;top:257px;width:285px;height:1px;background:#b4b4b4;"></div><div class="a" style="left:46px;top:259.04px;width:285px;height:23.5px;background:#fdfafa;"></div><div class="a" style="left:46px;top:282px;width:285px;height:1px;background:#b4b4b4;"></div><div class="a" style="left:46px;top:283.82px;width:285px;height:23.5px;background:#fdfafa;"></div><div class="a" style="left:46px;top:307px;width:285px;height:1px;background:#b4b4b4;"></div><div class="a" style="left:46px;top:308.6px;width:285px;height:23.5px;background:#fdfafa;"></div><div class="a" style="left:46px;top:332px;width:285px;height:1px;background:#b4b4b4;"></div><div class="a" style="left:46px;top:333.38px;width:285px;height:23.5px;background:#fdfafa;"></div><div class="a" style="left:46px;top:356px;width:285px;height:1px;background:#b4b4b4;"></div><div class="a" style="left:46px;top:358.16px;width:285px;height:23.5px;background:#fdfafa;"></div><div class="a" style="left:46px;top:381px;width:285px;height:1px;background:#b4b4b4;"></div><div class="a" style="left:46px;top:382.94px;width:285px;height:23.5px;background:#fdfafa;"></div><div class="a" style="left:46px;top:406px;width:285px;height:1px;background:#b4b4b4;"></div><div class="a" style="left:46px;top:407.72px;width:285px;height:23.5px;background:#fdfafa;"></div><div class="a" style="left:46px;top:431px;width:285px;height:1px;background:#b4b4b4;"></div><div class="a" style="left:46px;top:432.5px;width:285px;height:23.5px;background:#fdfafa;"></div><div class="a" style="left:46px;top:456px;width:285px;height:1px;background:#b4b4b4;"></div><div class="a" style="left:46px;top:457.28px;width:285px;height:23.5px;background:#fdfafa;"></div><div class="a" style="left:46px;top:480px;width:285px;height:1px;background:#b4b4b4;"></div><div class="a" style="left:46px;top:482.06px;width:285px;height:23.5px;background:#fdfafa;"></div><div class="a" style="left:46px;top:505px;width:285px;height:1px;background:#b4b4b4;"></div><div class="a" style="left:46px;top:506.84px;width:285px;height:23.5px;background:#fdfafa;"></div><div class="a" style="left:46px;top:530px;width:285px;height:1px;background:#b4b4b4;"></div><div class="a" style="left:46px;top:531.62px;width:285px;height:23.5px;background:#fdfafa;"></div><div class="a" style="left:46px;top:555px;width:285px;height:1px;background:#b4b4b4;"></div><div class="a" style="left:46px;top:556.4px;width:285px;height:23.5px;background:#fdfafa;"></div><div class="a" style="left:46px;top:579px;width:285px;height:1px;background:#b4b4b4;"></div><div class="a" style="left:46px;top:581.18px;width:285px;height:23.5px;background:#fdfafa;"></div><div class="a" style="left:46px;top:604px;width:285px;height:1px;background:#b4b4b4;"></div><div class="a" style="left:46px;top:605.96px;width:285px;height:23.5px;background:#fdfafa;"></div><div class="a" style="left:46px;top:629px;width:285px;height:1px;background:#b4b4b4;"></div><div class="a" style="left:46px;top:630.74px;width:285px;height:23.5px;background:#fdfafa;"></div><div class="a" style="left:46px;top:654px;width:285px;height:1px;background:#b4b4b4;"></div><div class="a" style="left:46px;top:655.52px;width:285px;height:23.5px;background:#fdfafa;"></div><div class="a" style="left:46px;top:679px;width:285px;height:1px;background:#b4b4b4;"></div><div class="a" style="left:46px;top:680.3px;width:285px;height:23.5px;background:#fdfafa;"></div><div class="a" style="left:46px;top:703px;width:285px;height:1px;background:#b4b4b4;"></div><div class="a" style="left:46px;top:705.08px;width:285px;height:23.5px;background:#fdfafa;"></div><div class="a" style="left:46px;top:728px;width:285px;height:1px;background:#b4b4b4;"></div><div class="a" style="left:46px;top:729.86px;width:285px;height:23.5px;background:#fdfafa;"></div><div class="a" style="left:46px;top:753px;width:285px;height:1px;background:#b4b4b4;"></div><div class="a" style="left:46px;top:754.64px;width:285px;height:23.5px;background:#fdfafa;"></div><div class="a" style="left:46px;top:778px;width:285px;height:1px;background:#b4b4b4;"></div><span id="t75" class="t" style="left:56px;top:782.66px;font:normal 8.5px/8.5px 'Liberation Serif', serif;color:#9a9a9a;">Whilst great care</span></div>
<div class="pg" style="left:470px;top:353px;width:601px;height:819px;border-radius:14px 0 0 12px;box-shadow:-1px 0 1.2px rgba(0,0,0,0.13),0 0 0.6px rgba(70,40,20,0.30);"><span id="t76" class="t" style="left:37.5px;top:17.62px;font:bold 12.5px/12.5px 'Liberation Serif', serif;color:#585858;transform:scaleX(0.8752);transform-origin:0 0;">CALENDAR</span><div class="a" style="left:37px;top:34px;width:527px;height:1px;background:#7a7a7a;"></div><span id="t77" class="t" style="left:37.5px;top:38.62px;font:bold 12.5px/12.5px 'Liberation Serif', serif;color:#448aab;transform:scaleX(1.0800);transform-origin:0 0;">2026</span><div class="a" style="left:37px;top:55px;width:248px;height:20px;background:#448aab;border-radius:3px;"></div><div class="a" style="left:316px;top:55px;width:248px;height:20px;background:#448aab;border-radius:3px;"></div><span id="t78" class="t" style="left:142.33px;top:60.64px;font:bold 10.5px/10.5px 'Liberation Serif', serif;color:#fff;">January</span><span id="t79" class="t" style="left:418.71px;top:60.64px;font:bold 10.5px/10.5px 'Liberation Serif', serif;color:#fff;">February</span><span id="t80" class="t" style="left:44.94px;top:77.06px;font:bold 8.5px/8.5px 'Liberation Serif', serif;color:#3c7c96;">WK</span><div class="a" style="left:37px;top:87px;width:53px;height:1px;background:#a0a0a0;"></div><div class="a" style="left:68.5px;top:89px;width:21.5px;height:75.5px;background:#efeded;"></div><span id="t81" class="t" style="left:50.5px;top:103.32px;font:bold 8px/8px 'Liberation Serif', serif;color:#3c7c96;">1</span><span id="t82" class="t" style="left:50.5px;top:116.22px;font:bold 8px/8px 'Liberation Serif', serif;color:#3c7c96;">2</span><span id="t83" class="t" style="left:50.5px;top:129.12px;font:bold 8px/8px 'Liberation Serif', serif;color:#3c7c96;">3</span><span id="t84" class="t" style="left:50.5px;top:142.02px;font:bold 8px/8px 'Liberation Serif', serif;color:#3c7c96;">4</span><span id="t85" class="t" style="left:50.5px;top:154.92px;font:bold 8px/8px 'Liberation Serif', serif;color:#3c7c96;">5</span><div class="a" style="left:37px;top:178.4px;width:248px;height:20px;background:#448aab;border-radius:3px;"></div><span id="t86" class="t" style="left:44.94px;top:200.46px;font:bold 8.5px/8.5px 'Liberation Serif', serif;color:#3c7c96;">WK</span><div class="a" style="left:37px;top:211px;width:53px;height:1px;background:#a0a0a0;"></div><div class="a" style="left:68.5px;top:212.4px;width:21.5px;height:75.5px;background:#efeded;"></div><span id="t87" class="t" style="left:48.5px;top:226.72px;font:bold 8px/8px 'Liberation Serif', serif;color:#3c7c96;">10</span><span id="t88" class="t" style="left:48.72px;top:239.62px;font:bold 8px/8px 'Liberation Serif', serif;color:#3c7c96;">11</span><span id="t89" class="t" style="left:48.5px;top:252.52px;font:bold 8px/8px 'Liberation Serif', serif;color:#3c7c96;">12</span><span id="t90" class="t" style="left:48.5px;top:265.42px;font:bold 8px/8px 'Liberation Serif', serif;color:#3c7c96;">13</span><span id="t91" class="t" style="left:48.5px;top:278.32px;font:bold 8px/8px 'Liberation Serif', serif;color:#3c7c96;">14</span><div class="a" style="left:37px;top:301.8px;width:248px;height:20px;background:#448aab;border-radius:3px;"></div><span id="t92" class="t" style="left:44.94px;top:323.86px;font:bold 8.5px/8.5px 'Liberation Serif', serif;color:#3c7c96;">WK</span><div class="a" style="left:37px;top:334px;width:53px;height:1px;background:#a0a0a0;"></div><div class="a" style="left:68.5px;top:335.8px;width:21.5px;height:75.5px;background:#efeded;"></div><span id="t93" class="t" style="left:48.5px;top:337.22px;font:bold 8px/8px 'Liberation Serif', serif;color:#3c7c96;">18</span><span id="t94" class="t" style="left:48.5px;top:350.12px;font:bold 8px/8px 'Liberation Serif', serif;color:#3c7c96;">19</span><span id="t95" class="t" style="left:48.5px;top:363.02px;font:bold 8px/8px 'Liberation Serif', serif;color:#3c7c96;">20</span><span id="t96" class="t" style="left:48.5px;top:375.92px;font:bold 8px/8px 'Liberation Serif', serif;color:#3c7c96;">21</span><span id="t97" class="t" style="left:48.5px;top:388.82px;font:bold 8px/8px 'Liberation Serif', serif;color:#3c7c96;">22</span><span id="t98" class="t" style="left:48.5px;top:401.72px;font:bold 8px/8px 'Liberation Serif', serif;color:#3c7c96;">23</span><div class="a" style="left:37px;top:425.2px;width:248px;height:20px;background:#448aab;border-radius:3px;"></div><span id="t99" class="t" style="left:44.94px;top:447.26px;font:bold 8.5px/8.5px 'Liberation Serif', serif;color:#3c7c96;">WK</span><div class="a" style="left:37px;top:458px;width:53px;height:1px;background:#a0a0a0;"></div><div class="a" style="left:68.5px;top:459.2px;width:21.5px;height:75.5px;background:#efeded;"></div><span id="t100" class="t" style="left:48.5px;top:473.52px;font:bold 8px/8px 'Liberation Serif', serif;color:#3c7c96;">27</span><span id="t101" class="t" style="left:48.5px;top:486.42px;font:bold 8px/8px 'Liberation Serif', serif;color:#3c7c96;">28</span><span id="t102" class="t" style="left:48.5px;top:499.32px;font:bold 8px/8px 'Liberation Serif', serif;color:#3c7c96;">29</span><span id="t103" class="t" style="left:48.5px;top:512.22px;font:bold 8px/8px 'Liberation Serif', serif;color:#3c7c96;">30</span><span id="t104" class="t" style="left:48.5px;top:525.12px;font:bold 8px/8px 'Liberation Serif', serif;color:#3c7c96;">31</span><div class="a" style="left:37px;top:548.6px;width:248px;height:20px;background:#448aab;border-radius:3px;"></div><span id="t105" class="t" style="left:44.94px;top:570.66px;font:bold 8.5px/8.5px 'Liberation Serif', serif;color:#3c7c96;">WK</span><div class="a" style="left:37px;top:581px;width:53px;height:1px;background:#a0a0a0;"></div><div class="a" style="left:68.5px;top:582.6px;width:21.5px;height:75.5px;background:#efeded;"></div><span id="t106" class="t" style="left:48.5px;top:596.92px;font:bold 8px/8px 'Liberation Serif', serif;color:#3c7c96;">36</span><span id="t107" class="t" style="left:48.5px;top:609.82px;font:bold 8px/8px 'Liberation Serif', serif;color:#3c7c96;">37</span><span id="t108" class="t" style="left:48.5px;top:622.72px;font:bold 8px/8px 'Liberation Serif', serif;color:#3c7c96;">38</span><span id="t109" class="t" style="left:48.5px;top:635.62px;font:bold 8px/8px 'Liberation Serif', serif;color:#3c7c96;">39</span><span id="t110" class="t" style="left:48.5px;top:648.52px;font:bold 8px/8px 'Liberation Serif', serif;color:#3c7c96;">40</span><div class="a" style="left:37px;top:672px;width:248px;height:20px;background:#448aab;border-radius:3px;"></div><span id="t111" class="t" style="left:44.94px;top:694.07px;font:bold 8.5px/8.5px 'Liberation Serif', serif;color:#3c7c96;">WK</span><div class="a" style="left:37px;top:705px;width:53px;height:1px;background:#a0a0a0;"></div><div class="a" style="left:68.5px;top:706px;width:21.5px;height:75.5px;background:#efeded;"></div><span id="t112" class="t" style="left:48.5px;top:720.32px;font:bold 8px/8px 'Liberation Serif', serif;color:#3c7c96;">45</span><span id="t113" class="t" style="left:48.5px;top:733.22px;font:bold 8px/8px 'Liberation Serif', serif;color:#3c7c96;">46</span><span id="t114" class="t" style="left:48.5px;top:746.12px;font:bold 8px/8px 'Liberation Serif', serif;color:#3c7c96;">47</span><span id="t115" class="t" style="left:48.5px;top:759.02px;font:bold 8px/8px 'Liberation Serif', serif;color:#3c7c96;">48</span><span id="t116" class="t" style="left:48.5px;top:771.92px;font:bold 8px/8px 'Liberation Serif', serif;color:#3c7c96;">49</span><div class="a" style="left:37px;top:794px;width:53px;height:1px;background:#a0a0a0;"></div></div>
<div class="pg" style="left:547px;top:422px;width:600px;height:816px;border-radius:3px 17px 0 0;box-shadow:-1px 0 1.2px rgba(0,0,0,0.13),0 0 0.6px rgba(70,40,20,0.30);"><span id="t117" class="t" style="left:424px;top:18.62px;font:bold 12.5px/12.5px 'Liberation Serif', serif;color:#585858;transform:scaleX(1.0307);transform-origin:0 0;">YEAR PLANNER 2026</span><div class="a" style="left:43.6px;top:37.7px;width:164.4px;height:22.3px;background:#448aab;border-radius:3px;"></div><span id="t118" class="t" style="left:103.9px;top:42.88px;font:bold 12px/12px 'Liberation Serif', serif;color:#fff;transform:scaleX(1.0432);transform-origin:0 0;">October</span><div class="a" style="left:216.7px;top:37.7px;width:164.3px;height:22.3px;background:#448aab;border-radius:3px;"></div><span id="t119" class="t" style="left:272.35px;top:42.88px;font:bold 12px/12px 'Liberation Serif', serif;color:#fff;transform:scaleX(0.9938);transform-origin:0 0;">November</span><div class="a" style="left:390px;top:37.7px;width:165px;height:22.3px;background:#448aab;border-radius:3px;"></div><span id="t120" class="t" style="left:445.3px;top:42.88px;font:bold 12px/12px 'Liberation Serif', serif;color:#fff;transform:scaleX(1.0468);transform-origin:0 0;">December</span><div class="a" style="left:43.6px;top:82px;width:89.4px;height:1px;background:#a4a4a4;"></div><span id="t121" class="t" style="left:45px;top:66.9px;font:normal 10px/10px 'Liberation Serif', serif;color:#71919c;">1</span><span id="t122" class="t" style="left:59.5px;top:66.9px;font:normal 10px/10px 'Liberation Serif', serif;color:#71919c;">T</span><div class="a" style="left:43.6px;top:105px;width:89.4px;height:1px;background:#a4a4a4;"></div><span id="t123" class="t" style="left:45px;top:89.95px;font:normal 10px/10px 'Liberation Serif', serif;color:#71919c;">2</span><span id="t124" class="t" style="left:59.5px;top:89.95px;font:normal 10px/10px 'Liberation Serif', serif;color:#71919c;">F</span><div class="a" style="left:43.6px;top:107.1px;width:89.4px;height:22px;background:#edebeb;"></div><div class="a" style="left:43.6px;top:128px;width:89.4px;height:1px;background:#a4a4a4;"></div><span id="t125" class="t" style="left:45px;top:113px;font:normal 10px/10px 'Liberation Serif', serif;color:#71919c;">3</span><span id="t126" class="t" style="left:59.5px;top:113px;font:normal 10px/10px 'Liberation Serif', serif;color:#71919c;">Sa</span><div class="a" style="left:43.6px;top:130.15px;width:89.4px;height:22px;background:#edebeb;"></div><div class="a" style="left:43.6px;top:152px;width:89.4px;height:1px;background:#a4a4a4;"></div><span id="t127" class="t" style="left:45px;top:136.05px;font:normal 10px/10px 'Liberation Serif', serif;color:#71919c;">4</span><span id="t128" class="t" style="left:59.5px;top:136.05px;font:normal 10px/10px 'Liberation Serif', serif;color:#71919c;">Su</span><div class="a" style="left:43.6px;top:175px;width:89.4px;height:1px;background:#a4a4a4;"></div><span id="t129" class="t" style="left:45px;top:159.1px;font:normal 10px/10px 'Liberation Serif', serif;color:#71919c;">5</span><span id="t130" class="t" style="left:59.5px;top:159.1px;font:normal 10px/10px 'Liberation Serif', serif;color:#71919c;">M</span><div class="a" style="left:43.6px;top:198px;width:89.4px;height:1px;background:#a4a4a4;"></div><span id="t131" class="t" style="left:45px;top:182.15px;font:normal 10px/10px 'Liberation Serif', serif;color:#71919c;">6</span><span id="t132" class="t" style="left:59.5px;top:182.15px;font:normal 10px/10px 'Liberation Serif', serif;color:#71919c;">T</span><div class="a" style="left:43.6px;top:221px;width:89.4px;height:1px;background:#a4a4a4;"></div><span id="t133" class="t" style="left:45px;top:205.2px;font:normal 10px/10px 'Liberation Serif', serif;color:#71919c;">7</span><span id="t134" class="t" style="left:59.5px;top:205.2px;font:normal 10px/10px 'Liberation Serif', serif;color:#71919c;">W</span><div class="a" style="left:43.6px;top:244px;width:89.4px;height:1px;background:#a4a4a4;"></div><span id="t135" class="t" style="left:45px;top:228.25px;font:normal 10px/10px 'Liberation Serif', serif;color:#71919c;">8</span><span id="t136" class="t" style="left:59.5px;top:228.25px;font:normal 10px/10px 'Liberation Serif', serif;color:#71919c;">T</span><div class="a" style="left:43.6px;top:267px;width:89.4px;height:1px;background:#a4a4a4;"></div><span id="t137" class="t" style="left:45px;top:251.3px;font:normal 10px/10px 'Liberation Serif', serif;color:#71919c;">9</span><span id="t138" class="t" style="left:59.5px;top:251.3px;font:normal 10px/10px 'Liberation Serif', serif;color:#71919c;">F</span><div class="a" style="left:43.6px;top:268.45px;width:89.4px;height:22px;background:#edebeb;"></div><div class="a" style="left:43.6px;top:290px;width:89.4px;height:1px;background:#a4a4a4;"></div><span id="t139" class="t" style="left:44.5px;top:274.35px;font:normal 10px/10px 'Liberation Serif', serif;color:#71919c;">10 Sa</span><div class="a" style="left:43.6px;top:291.5px;width:89.4px;height:22px;background:#edebeb;"></div><div class="a" style="left:43.6px;top:313px;width:89.4px;height:1px;background:#a4a4a4;"></div><span id="t140" class="t" style="left:44.5px;top:297.4px;font:normal 10px/10px 'Liberation Serif', serif;color:#71919c;">11 Su</span><div class="a" style="left:43.6px;top:336px;width:89.4px;height:1px;background:#a4a4a4;"></div><span id="t141" class="t" style="left:44.5px;top:320.45px;font:normal 10px/10px 'Liberation Serif', serif;color:#71919c;">12 M</span><div class="a" style="left:43.6px;top:359px;width:89.4px;height:1px;background:#a4a4a4;"></div><span id="t142" class="t" style="left:44.5px;top:343.5px;font:normal 10px/10px 'Liberation Serif', serif;color:#71919c;">13 T</span><div class="a" style="left:43.6px;top:382px;width:89.4px;height:1px;background:#a4a4a4;"></div><span id="t143" class="t" style="left:44.5px;top:366.55px;font:normal 10px/10px 'Liberation Serif', serif;color:#71919c;">14 W</span><div class="a" style="left:43.6px;top:405px;width:89.4px;height:1px;background:#a4a4a4;"></div><span id="t144" class="t" style="left:44.5px;top:389.6px;font:normal 10px/10px 'Liberation Serif', serif;color:#71919c;">15 T</span><div class="a" style="left:43.6px;top:428px;width:89.4px;height:1px;background:#a4a4a4;"></div><span id="t145" class="t" style="left:44.5px;top:412.65px;font:normal 10px/10px 'Liberation Serif', serif;color:#71919c;">16 F</span><div class="a" style="left:43.6px;top:429.8px;width:89.4px;height:22px;background:#edebeb;"></div><div class="a" style="left:43.6px;top:451px;width:89.4px;height:1px;background:#a4a4a4;"></div><span id="t146" class="t" style="left:44.5px;top:435.7px;font:normal 10px/10px 'Liberation Serif', serif;color:#71919c;">17 Sa</span><div class="a" style="left:43.6px;top:452.85px;width:89.4px;height:22px;background:#edebeb;"></div><div class="a" style="left:43.6px;top:474px;width:89.4px;height:1px;background:#a4a4a4;"></div><span id="t147" class="t" style="left:44.5px;top:458.75px;font:normal 10px/10px 'Liberation Serif', serif;color:#71919c;">18 Su</span><div class="a" style="left:43.6px;top:497px;width:89.4px;height:1px;background:#a4a4a4;"></div><span id="t148" class="t" style="left:44.5px;top:481.8px;font:normal 10px/10px 'Liberation Serif', serif;color:#71919c;">19 M</span><div class="a" style="left:43.6px;top:520px;width:89.4px;height:1px;background:#a4a4a4;"></div><span id="t149" class="t" style="left:44.5px;top:504.85px;font:normal 10px/10px 'Liberation Serif', serif;color:#71919c;">20 T</span><div class="a" style="left:43.6px;top:543px;width:89.4px;height:1px;background:#a4a4a4;"></div><span id="t150" class="t" style="left:44.5px;top:527.9px;font:normal 10px/10px 'Liberation Serif', serif;color:#71919c;">21 W</span><div class="a" style="left:43.6px;top:566px;width:89.4px;height:1px;background:#a4a4a4;"></div><span id="t151" class="t" style="left:44.5px;top:550.95px;font:normal 10px/10px 'Liberation Serif', serif;color:#71919c;">22 T</span><div class="a" style="left:43.6px;top:590px;width:89.4px;height:1px;background:#a4a4a4;"></div><span id="t152" class="t" style="left:44.5px;top:574px;font:normal 10px/10px 'Liberation Serif', serif;color:#71919c;">23 F</span><div class="a" style="left:43.6px;top:591.15px;width:89.4px;height:22px;background:#edebeb;"></div><div class="a" style="left:43.6px;top:613px;width:89.4px;height:1px;background:#a4a4a4;"></div><span id="t153" class="t" style="left:44.5px;top:597.05px;font:normal 10px/10px 'Liberation Serif', serif;color:#71919c;">24 Sa</span><div class="a" style="left:43.6px;top:614.2px;width:89.4px;height:22px;background:#edebeb;"></div><div class="a" style="left:43.6px;top:636px;width:89.4px;height:1px;background:#a4a4a4;"></div><span id="t154" class="t" style="left:44.5px;top:620.1px;font:normal 10px/10px 'Liberation Serif', serif;color:#71919c;">25 Su</span><div class="a" style="left:43.6px;top:659px;width:89.4px;height:1px;background:#a4a4a4;"></div><span id="t155" class="t" style="left:44.5px;top:643.15px;font:normal 10px/10px 'Liberation Serif', serif;color:#71919c;">26 M</span><div class="a" style="left:43.6px;top:682px;width:89.4px;height:1px;background:#a4a4a4;"></div><span id="t156" class="t" style="left:44.5px;top:666.2px;font:normal 10px/10px 'Liberation Serif', serif;color:#71919c;">27 T</span><div class="a" style="left:43.6px;top:705px;width:89.4px;height:1px;background:#a4a4a4;"></div><span id="t157" class="t" style="left:44.5px;top:689.25px;font:normal 10px/10px 'Liberation Serif', serif;color:#71919c;">28 W</span><div class="a" style="left:43.6px;top:728px;width:89.4px;height:1px;background:#a4a4a4;"></div><span id="t158" class="t" style="left:44.5px;top:712.3px;font:normal 10px/10px 'Liberation Serif', serif;color:#71919c;">29 T</span><div class="a" style="left:43.6px;top:751px;width:89.4px;height:1px;background:#a4a4a4;"></div><span id="t159" class="t" style="left:44.5px;top:735.35px;font:normal 10px/10px 'Liberation Serif', serif;color:#71919c;">30 F</span><div class="a" style="left:43.6px;top:752.5px;width:89.4px;height:22px;background:#edebeb;"></div><div class="a" style="left:43.6px;top:774px;width:89.4px;height:1px;background:#a4a4a4;"></div><span id="t160" class="t" style="left:44.5px;top:758.4px;font:normal 10px/10px 'Liberation Serif', serif;color:#71919c;">31 Sa</span><div class="a" style="left:43.6px;top:778px;width:89.4px;height:1px;background:#a4a4a4;"></div><div class="a" style="left:216.7px;top:61px;width:164.3px;height:22px;background:#edebeb;"></div><span id="t161" class="t" style="left:219px;top:66.9px;font:normal 10px/10px 'Liberation Serif', serif;color:#8a8a8a;">1</span><span id="t162" class="t" style="left:233px;top:66.9px;font:normal 10px/10px 'Liberation Serif', serif;color:#8a8a8a;">Su</span><span id="t163" class="t" style="left:392px;top:66.9px;font:normal 10px/10px 'Liberation Serif', serif;color:#8a8a8a;">1</span><span id="t164" class="t" style="left:406px;top:66.9px;font:normal 10px/10px 'Liberation Serif', serif;color:#8a8a8a;">T</span></div>
<div class="pg" style="left:633px;top:500px;width:602px;height:816px;border-radius:20px 0 0 12px;box-shadow:-1px 0 1.2px rgba(0,0,0,0.13),0 0 0.6px rgba(70,40,20,0.30);"><span id="t165" class="t" style="left:45.3px;top:19.07px;font:bold 12.8px/12.8px 'Liberation Serif', serif;color:#585858;transform:scaleX(1.0270);transform-origin:0 0;">2026 EXPENSES</span><div class="a" style="left:45.3px;top:38.3px;width:164.7px;height:22.3px;background:#448aab;border-radius:3px;"></div><span id="t166" class="t" style="left:104.85px;top:43.38px;font:bold 12px/12px 'Liberation Serif', serif;color:#fff;transform:scaleX(1.0682);transform-origin:0 0;">January</span><div class="a" style="left:218.3px;top:38.3px;width:164.7px;height:22.3px;background:#448aab;border-radius:3px;"></div><span id="t167" class="t" style="left:275.3px;top:43.38px;font:bold 12px/12px 'Liberation Serif', serif;color:#fff;transform:scaleX(1.0420);transform-origin:0 0;">February</span><div class="a" style="left:392px;top:38.3px;width:164.2px;height:22.3px;background:#448aab;border-radius:3px;"></div><span id="t168" class="t" style="left:456.95px;top:43.38px;font:bold 12px/12px 'Liberation Serif', serif;color:#fff;transform:scaleX(0.9960);transform-origin:0 0;">March</span><div class="a" style="left:45.3px;top:62.1px;width:164.7px;height:23.5px;background:#fdfafa;"></div><div class="a" style="left:45.3px;top:85px;width:164.7px;height:1px;background:#b4b4b4;"></div><div class="a" style="left:45.3px;top:86.88px;width:164.7px;height:23.5px;background:#fdfafa;"></div><div class="a" style="left:45.3px;top:110px;width:164.7px;height:1px;background:#b4b4b4;"></div><div class="a" style="left:45.3px;top:111.66px;width:164.7px;height:23.5px;background:#fdfafa;"></div><div class="a" style="left:45.3px;top:135px;width:164.7px;height:1px;background:#b4b4b4;"></div><div class="a" style="left:45.3px;top:136.44px;width:164.7px;height:23.5px;background:#fdfafa;"></div><div class="a" style="left:45.3px;top:159px;width:164.7px;height:1px;background:#b4b4b4;"></div><div class="a" style="left:45.3px;top:161.22px;width:164.7px;height:23.5px;background:#fdfafa;"></div><div class="a" style="left:45.3px;top:184px;width:164.7px;height:1px;background:#b4b4b4;"></div><div class="a" style="left:45.3px;top:186px;width:164.7px;height:23.5px;background:#fdfafa;"></div><div class="a" style="left:45.3px;top:209px;width:164.7px;height:1px;background:#b4b4b4;"></div><div class="a" style="left:45.3px;top:210.78px;width:164.7px;height:23.5px;background:#fdfafa;"></div><div class="a" style="left:45.3px;top:234px;width:164.7px;height:1px;background:#b4b4b4;"></div><div class="a" style="left:45.3px;top:235.56px;width:164.7px;height:23.5px;background:#fdfafa;"></div><div class="a" style="left:45.3px;top:259px;width:164.7px;height:1px;background:#b4b4b4;"></div><div class="a" style="left:45.3px;top:260.34px;width:164.7px;height:23.5px;background:#fdfafa;"></div><div class="a" style="left:45.3px;top:283px;width:164.7px;height:1px;background:#b4b4b4;"></div><div class="a" style="left:45.3px;top:285.12px;width:164.7px;height:23.5px;background:#fdfafa;"></div><div class="a" style="left:45.3px;top:308px;width:164.7px;height:1px;background:#b4b4b4;"></div><div class="a" style="left:45.3px;top:309.9px;width:164.7px;height:23.5px;background:#fdfafa;"></div><div class="a" style="left:45.3px;top:333px;width:164.7px;height:1px;background:#b4b4b4;"></div><div class="a" style="left:45.3px;top:334.68px;width:164.7px;height:23.5px;background:#fdfafa;"></div><div class="a" style="left:45.3px;top:358px;width:164.7px;height:1px;background:#b4b4b4;"></div><div class="a" style="left:45.3px;top:359.46px;width:164.7px;height:23.5px;background:#fdfafa;"></div><div class="a" style="left:45.3px;top:382px;width:164.7px;height:1px;background:#b4b4b4;"></div><div class="a" style="left:45.3px;top:384.24px;width:164.7px;height:23.5px;background:#fdfafa;"></div><div class="a" style="left:45.3px;top:407px;width:164.7px;height:1px;background:#b4b4b4;"></div><div class="a" style="left:45.3px;top:409.02px;width:164.7px;height:23.5px;background:#fdfafa;"></div><div class="a" style="left:45.3px;top:432px;width:164.7px;height:1px;background:#b4b4b4;"></div><div class="a" style="left:45.3px;top:433.8px;width:164.7px;height:23.5px;background:#fdfafa;"></div><div class="a" style="left:45.3px;top:457px;width:164.7px;height:1px;background:#b4b4b4;"></div><div class="a" style="left:45.3px;top:458.58px;width:164.7px;height:23.5px;background:#fdfafa;"></div><div class="a" style="left:45.3px;top:482px;width:164.7px;height:1px;background:#b4b4b4;"></div><div class="a" style="left:45.3px;top:483.36px;width:164.7px;height:23.5px;background:#fdfafa;"></div><div class="a" style="left:45.3px;top:506px;width:164.7px;height:1px;background:#b4b4b4;"></div><div class="a" style="left:45.3px;top:508.14px;width:164.7px;height:23.5px;background:#fdfafa;"></div><div class="a" style="left:45.3px;top:531px;width:164.7px;height:1px;background:#b4b4b4;"></div><div class="a" style="left:45.3px;top:532.92px;width:164.7px;height:23.5px;background:#fdfafa;"></div><div class="a" style="left:45.3px;top:556px;width:164.7px;height:1px;background:#b4b4b4;"></div><div class="a" style="left:45.3px;top:557.7px;width:164.7px;height:23.5px;background:#fdfafa;"></div><div class="a" style="left:45.3px;top:581px;width:164.7px;height:1px;background:#b4b4b4;"></div><div class="a" style="left:45.3px;top:582.48px;width:164.7px;height:23.5px;background:#fdfafa;"></div><div class="a" style="left:45.3px;top:605px;width:164.7px;height:1px;background:#b4b4b4;"></div><div class="a" style="left:45.3px;top:607.26px;width:164.7px;height:23.5px;background:#fdfafa;"></div><div class="a" style="left:45.3px;top:630px;width:164.7px;height:1px;background:#b4b4b4;"></div><div class="a" style="left:45.3px;top:632.04px;width:164.7px;height:23.5px;background:#fdfafa;"></div><div class="a" style="left:45.3px;top:655px;width:164.7px;height:1px;background:#b4b4b4;"></div><div class="a" style="left:45.3px;top:656.82px;width:164.7px;height:23.5px;background:#fdfafa;"></div><div class="a" style="left:45.3px;top:680px;width:164.7px;height:1px;background:#b4b4b4;"></div><div class="a" style="left:45.3px;top:681.6px;width:164.7px;height:23.5px;background:#fdfafa;"></div><div class="a" style="left:45.3px;top:705px;width:164.7px;height:1px;background:#b4b4b4;"></div><div class="a" style="left:45.3px;top:706.38px;width:164.7px;height:23.5px;background:#fdfafa;"></div><div class="a" style="left:45.3px;top:729px;width:164.7px;height:1px;background:#b4b4b4;"></div><div class="a" style="left:45.3px;top:731.16px;width:164.7px;height:23.5px;background:#fdfafa;"></div><div class="a" style="left:45.3px;top:754px;width:164.7px;height:1px;background:#b4b4b4;"></div><div class="a" style="left:45.3px;top:755.94px;width:164.7px;height:23.5px;background:#fdfafa;"></div><div class="a" style="left:45.3px;top:779px;width:164.7px;height:1px;background:#b4b4b4;"></div></div>
<div class="pg" style="left:720px;top:562px;width:602px;height:816px;border-radius:10px 0 0 15px;box-shadow:-1px 0 1.2px rgba(0,0,0,0.13),0 0 0.6px rgba(70,40,20,0.30);"><span id="t169" class="t" style="left:45.4px;top:17.97px;font:bold 12.8px/12.8px 'Liberation Serif', serif;color:#585858;transform:scaleX(0.9798);transform-origin:0 0;">BIRTHDAY</span><div class="a" style="left:121px;top:37px;width:436px;height:41px;background:transparent;border-radius:0 9px 0 0;border-top:1.3px solid #7fa6b9;border-right:1.3px solid #7fa6b9;box-sizing:border-box;"></div><svg class="a" style="left:0;top:0" width="602" height="816" viewBox="720 562 602 816"><line x1="848" y1="621.6" x2="995" y2="621.6" stroke="#9a9a9a" stroke-width="1" stroke-dasharray="2 2"/><line x1="1001" y1="621.6" x2="1270" y2="621.6" stroke="#9a9a9a" stroke-width="1" stroke-dasharray="2 2"/></svg><div class="a" style="left:45.4px;top:37.4px;width:76.6px;height:113.2px;background:#448aab;border-radius:7px 0 0 7px;"></div><span id="t170" class="t" style="left:59.75px;top:86.93px;font:bold 12.3px/12.3px 'Liberation Serif', serif;color:#fff;transform:scaleX(1.0404);transform-origin:0 0;">January</span><div class="a" style="left:45.4px;top:163px;width:76.6px;height:113.2px;background:#448aab;border-radius:7px 0 0 7px;"></div><span id="t171" class="t" style="left:57px;top:212.53px;font:bold 12.3px/12.3px 'Liberation Serif', serif;color:#fff;transform:scaleX(1.0226);transform-origin:0 0;">February</span><div class="a" style="left:45.4px;top:288.6px;width:76.6px;height:113.2px;background:#448aab;border-radius:7px 0 0 7px;"></div><span id="t172" class="t" style="left:64.75px;top:338.13px;font:bold 12.3px/12.3px 'Liberation Serif', serif;color:#fff;transform:scaleX(1.0058);transform-origin:0 0;">March</span><div class="a" style="left:45.4px;top:414.2px;width:76.6px;height:113.2px;background:#448aab;border-radius:7px 0 0 7px;"></div><span id="t173" class="t" style="left:68.5px;top:463.73px;font:bold 12.3px/12.3px 'Liberation Serif', serif;color:#fff;">April</span><div class="a" style="left:45.4px;top:539.8px;width:76.6px;height:113.2px;background:#448aab;border-radius:7px 0 0 7px;"></div><span id="t174" class="t" style="left:71px;top:589.33px;font:bold 12.3px/12.3px 'Liberation Serif', serif;color:#fff;transform:scaleX(0.9621);transform-origin:0 0;">May</span><div class="a" style="left:45.4px;top:665.4px;width:76.6px;height:113.2px;background:#448aab;border-radius:7px 0 0 7px;"></div><span id="t175" class="t" style="left:69.25px;top:714.93px;font:bold 12.3px/12.3px 'Liberation Serif', serif;color:#fff;transform:scaleX(1.0476);transform-origin:0 0;">June</span></div>
<div class="pg" style="left:829px;top:623px;width:598px;height:817px;border-radius:0 17px 14px 0;box-shadow:-1px 0 1.2px rgba(0,0,0,0.13),0 0 0.6px rgba(70,40,20,0.30);"><span id="t176" class="t" style="left:440.5px;top:19.47px;font:bold 12.8px/12.8px 'Liberation Serif', serif;color:#585858;transform:scaleX(0.9782);transform-origin:0 0;">TRAVEL PLANNER</span><div class="a" style="left:42.5px;top:38.5px;width:113.8px;height:21.5px;background:#448aab;border-radius:3px;"></div><div class="a" style="left:164.7px;top:38.5px;width:389.3px;height:21.5px;background:#448aab;border-radius:3px;"></div><span id="t177" class="t" style="left:86.3px;top:43.18px;font:bold 12px/12px 'Liberation Serif', serif;color:#fff;transform:scaleX(1.0833);transform-origin:0 0;">Date</span><span id="t178" class="t" style="left:295.7px;top:42.92px;font:bold 12.5px/12.5px 'Liberation Serif', serif;color:#fff;transform:scaleX(1.0683);transform-origin:0 0;">Destination / Itinerary</span><div class="a" style="left:42.5px;top:62.5px;width:114.5px;height:23.5px;background:#fdfafa;"></div><div class="a" style="left:42.5px;top:85px;width:114.5px;height:1px;background:#b8b8b8;"></div><div class="a" style="left:163.5px;top:62.5px;width:390.5px;height:23.5px;background:#fdfafa;"></div><div class="a" style="left:163.5px;top:85px;width:390.5px;height:1px;background:#b8b8b8;"></div><div class="a" style="left:42.5px;top:87.28px;width:114.5px;height:23.5px;background:#fdfafa;"></div><div class="a" style="left:42.5px;top:110px;width:114.5px;height:1px;background:#b8b8b8;"></div><div class="a" style="left:163.5px;top:87.28px;width:390.5px;height:23.5px;background:#fdfafa;"></div><div class="a" style="left:163.5px;top:110px;width:390.5px;height:1px;background:#b8b8b8;"></div><div class="a" style="left:42.5px;top:112.06px;width:114.5px;height:23.5px;background:#fdfafa;"></div><div class="a" style="left:42.5px;top:135px;width:114.5px;height:1px;background:#b8b8b8;"></div><div class="a" style="left:163.5px;top:112.06px;width:390.5px;height:23.5px;background:#fdfafa;"></div><div class="a" style="left:163.5px;top:135px;width:390.5px;height:1px;background:#b8b8b8;"></div><div class="a" style="left:42.5px;top:136.84px;width:114.5px;height:23.5px;background:#fdfafa;"></div><div class="a" style="left:42.5px;top:160px;width:114.5px;height:1px;background:#b8b8b8;"></div><div class="a" style="left:163.5px;top:136.84px;width:390.5px;height:23.5px;background:#fdfafa;"></div><div class="a" style="left:163.5px;top:160px;width:390.5px;height:1px;background:#b8b8b8;"></div><div class="a" style="left:42.5px;top:161.62px;width:114.5px;height:23.5px;background:#fdfafa;"></div><div class="a" style="left:42.5px;top:185px;width:114.5px;height:1px;background:#b8b8b8;"></div><div class="a" style="left:163.5px;top:161.62px;width:390.5px;height:23.5px;background:#fdfafa;"></div><div class="a" style="left:163.5px;top:185px;width:390.5px;height:1px;background:#b8b8b8;"></div><div class="a" style="left:42.5px;top:186.4px;width:114.5px;height:23.5px;background:#fdfafa;"></div><div class="a" style="left:42.5px;top:209px;width:114.5px;height:1px;background:#b8b8b8;"></div><div class="a" style="left:163.5px;top:186.4px;width:390.5px;height:23.5px;background:#fdfafa;"></div><div class="a" style="left:163.5px;top:209px;width:390.5px;height:1px;background:#b8b8b8;"></div><div class="a" style="left:42.5px;top:211.18px;width:114.5px;height:23.5px;background:#fdfafa;"></div><div class="a" style="left:42.5px;top:234px;width:114.5px;height:1px;background:#b8b8b8;"></div><div class="a" style="left:163.5px;top:211.18px;width:390.5px;height:23.5px;background:#fdfafa;"></div><div class="a" style="left:163.5px;top:234px;width:390.5px;height:1px;background:#b8b8b8;"></div><div class="a" style="left:42.5px;top:235.96px;width:114.5px;height:23.5px;background:#fdfafa;"></div><div class="a" style="left:42.5px;top:259px;width:114.5px;height:1px;background:#b8b8b8;"></div><div class="a" style="left:163.5px;top:235.96px;width:390.5px;height:23.5px;background:#fdfafa;"></div><div class="a" style="left:163.5px;top:259px;width:390.5px;height:1px;background:#b8b8b8;"></div><div class="a" style="left:42.5px;top:260.74px;width:114.5px;height:23.5px;background:#fdfafa;"></div><div class="a" style="left:42.5px;top:284px;width:114.5px;height:1px;background:#b8b8b8;"></div><div class="a" style="left:163.5px;top:260.74px;width:390.5px;height:23.5px;background:#fdfafa;"></div><div class="a" style="left:163.5px;top:284px;width:390.5px;height:1px;background:#b8b8b8;"></div><div class="a" style="left:42.5px;top:285.52px;width:114.5px;height:23.5px;background:#fdfafa;"></div><div class="a" style="left:42.5px;top:309px;width:114.5px;height:1px;background:#b8b8b8;"></div><div class="a" style="left:163.5px;top:285.52px;width:390.5px;height:23.5px;background:#fdfafa;"></div><div class="a" style="left:163.5px;top:309px;width:390.5px;height:1px;background:#b8b8b8;"></div><div class="a" style="left:42.5px;top:310.3px;width:114.5px;height:23.5px;background:#fdfafa;"></div><div class="a" style="left:42.5px;top:333px;width:114.5px;height:1px;background:#b8b8b8;"></div><div class="a" style="left:163.5px;top:310.3px;width:390.5px;height:23.5px;background:#fdfafa;"></div><div class="a" style="left:163.5px;top:333px;width:390.5px;height:1px;background:#b8b8b8;"></div><div class="a" style="left:42.5px;top:335.08px;width:114.5px;height:23.5px;background:#fdfafa;"></div><div class="a" style="left:42.5px;top:358px;width:114.5px;height:1px;background:#b8b8b8;"></div><div class="a" style="left:163.5px;top:335.08px;width:390.5px;height:23.5px;background:#fdfafa;"></div><div class="a" style="left:163.5px;top:358px;width:390.5px;height:1px;background:#b8b8b8;"></div><div class="a" style="left:42.5px;top:359.86px;width:114.5px;height:23.5px;background:#fdfafa;"></div><div class="a" style="left:42.5px;top:383px;width:114.5px;height:1px;background:#b8b8b8;"></div><div class="a" style="left:163.5px;top:359.86px;width:390.5px;height:23.5px;background:#fdfafa;"></div><div class="a" style="left:163.5px;top:383px;width:390.5px;height:1px;background:#b8b8b8;"></div><div class="a" style="left:42.5px;top:384.64px;width:114.5px;height:23.5px;background:#fdfafa;"></div><div class="a" style="left:42.5px;top:408px;width:114.5px;height:1px;background:#b8b8b8;"></div><div class="a" style="left:163.5px;top:384.64px;width:390.5px;height:23.5px;background:#fdfafa;"></div><div class="a" style="left:163.5px;top:408px;width:390.5px;height:1px;background:#b8b8b8;"></div><div class="a" style="left:42.5px;top:409.42px;width:114.5px;height:23.5px;background:#fdfafa;"></div><div class="a" style="left:42.5px;top:432px;width:114.5px;height:1px;background:#b8b8b8;"></div><div class="a" style="left:163.5px;top:409.42px;width:390.5px;height:23.5px;background:#fdfafa;"></div><div class="a" style="left:163.5px;top:432px;width:390.5px;height:1px;background:#b8b8b8;"></div><div class="a" style="left:42.5px;top:434.2px;width:114.5px;height:23.5px;background:#fdfafa;"></div><div class="a" style="left:42.5px;top:457px;width:114.5px;height:1px;background:#b8b8b8;"></div><div class="a" style="left:163.5px;top:434.2px;width:390.5px;height:23.5px;background:#fdfafa;"></div><div class="a" style="left:163.5px;top:457px;width:390.5px;height:1px;background:#b8b8b8;"></div><div class="a" style="left:42.5px;top:458.98px;width:114.5px;height:23.5px;background:#fdfafa;"></div><div class="a" style="left:42.5px;top:482px;width:114.5px;height:1px;background:#b8b8b8;"></div><div class="a" style="left:163.5px;top:458.98px;width:390.5px;height:23.5px;background:#fdfafa;"></div><div class="a" style="left:163.5px;top:482px;width:390.5px;height:1px;background:#b8b8b8;"></div><div class="a" style="left:42.5px;top:483.76px;width:114.5px;height:23.5px;background:#fdfafa;"></div><div class="a" style="left:42.5px;top:507px;width:114.5px;height:1px;background:#b8b8b8;"></div><div class="a" style="left:163.5px;top:483.76px;width:390.5px;height:23.5px;background:#fdfafa;"></div><div class="a" style="left:163.5px;top:507px;width:390.5px;height:1px;background:#b8b8b8;"></div><div class="a" style="left:42.5px;top:508.54px;width:114.5px;height:23.5px;background:#fdfafa;"></div><div class="a" style="left:42.5px;top:532px;width:114.5px;height:1px;background:#b8b8b8;"></div><div class="a" style="left:163.5px;top:508.54px;width:390.5px;height:23.5px;background:#fdfafa;"></div><div class="a" style="left:163.5px;top:532px;width:390.5px;height:1px;background:#b8b8b8;"></div><div class="a" style="left:42.5px;top:533.32px;width:114.5px;height:23.5px;background:#fdfafa;"></div><div class="a" style="left:42.5px;top:556px;width:114.5px;height:1px;background:#b8b8b8;"></div><div class="a" style="left:163.5px;top:533.32px;width:390.5px;height:23.5px;background:#fdfafa;"></div><div class="a" style="left:163.5px;top:556px;width:390.5px;height:1px;background:#b8b8b8;"></div><div class="a" style="left:42.5px;top:558.1px;width:114.5px;height:23.5px;background:#fdfafa;"></div><div class="a" style="left:42.5px;top:581px;width:114.5px;height:1px;background:#b8b8b8;"></div><div class="a" style="left:163.5px;top:558.1px;width:390.5px;height:23.5px;background:#fdfafa;"></div><div class="a" style="left:163.5px;top:581px;width:390.5px;height:1px;background:#b8b8b8;"></div><div class="a" style="left:42.5px;top:582.88px;width:114.5px;height:23.5px;background:#fdfafa;"></div><div class="a" style="left:42.5px;top:606px;width:114.5px;height:1px;background:#b8b8b8;"></div><div class="a" style="left:163.5px;top:582.88px;width:390.5px;height:23.5px;background:#fdfafa;"></div><div class="a" style="left:163.5px;top:606px;width:390.5px;height:1px;background:#b8b8b8;"></div><div class="a" style="left:42.5px;top:607.66px;width:114.5px;height:23.5px;background:#fdfafa;"></div><div class="a" style="left:42.5px;top:631px;width:114.5px;height:1px;background:#b8b8b8;"></div><div class="a" style="left:163.5px;top:607.66px;width:390.5px;height:23.5px;background:#fdfafa;"></div><div class="a" style="left:163.5px;top:631px;width:390.5px;height:1px;background:#b8b8b8;"></div><div class="a" style="left:42.5px;top:632.44px;width:114.5px;height:23.5px;background:#fdfafa;"></div><div class="a" style="left:42.5px;top:655px;width:114.5px;height:1px;background:#b8b8b8;"></div><div class="a" style="left:163.5px;top:632.44px;width:390.5px;height:23.5px;background:#fdfafa;"></div><div class="a" style="left:163.5px;top:655px;width:390.5px;height:1px;background:#b8b8b8;"></div><div class="a" style="left:42.5px;top:657.22px;width:114.5px;height:23.5px;background:#fdfafa;"></div><div class="a" style="left:42.5px;top:680px;width:114.5px;height:1px;background:#b8b8b8;"></div><div class="a" style="left:163.5px;top:657.22px;width:390.5px;height:23.5px;background:#fdfafa;"></div><div class="a" style="left:163.5px;top:680px;width:390.5px;height:1px;background:#b8b8b8;"></div><div class="a" style="left:42.5px;top:682px;width:114.5px;height:23.5px;background:#fdfafa;"></div><div class="a" style="left:42.5px;top:705px;width:114.5px;height:1px;background:#b8b8b8;"></div><div class="a" style="left:163.5px;top:682px;width:390.5px;height:23.5px;background:#fdfafa;"></div><div class="a" style="left:163.5px;top:705px;width:390.5px;height:1px;background:#b8b8b8;"></div><div class="a" style="left:42.5px;top:706.78px;width:114.5px;height:23.5px;background:#fdfafa;"></div><div class="a" style="left:42.5px;top:730px;width:114.5px;height:1px;background:#b8b8b8;"></div><div class="a" style="left:163.5px;top:706.78px;width:390.5px;height:23.5px;background:#fdfafa;"></div><div class="a" style="left:163.5px;top:730px;width:390.5px;height:1px;background:#b8b8b8;"></div><div class="a" style="left:42.5px;top:731.56px;width:114.5px;height:23.5px;background:#fdfafa;"></div><div class="a" style="left:42.5px;top:755px;width:114.5px;height:1px;background:#b8b8b8;"></div><div class="a" style="left:163.5px;top:731.56px;width:390.5px;height:23.5px;background:#fdfafa;"></div><div class="a" style="left:163.5px;top:755px;width:390.5px;height:1px;background:#b8b8b8;"></div><div class="a" style="left:42.5px;top:756.34px;width:114.5px;height:23.5px;background:#fdfafa;"></div><div class="a" style="left:42.5px;top:779px;width:114.5px;height:1px;background:#b8b8b8;"></div><div class="a" style="left:163.5px;top:756.34px;width:390.5px;height:23.5px;background:#fdfafa;"></div><div class="a" style="left:163.5px;top:779px;width:390.5px;height:1px;background:#b8b8b8;"></div></div>
<svg class="a" style="left:0;top:0" width="1500" height="1500"><g fill="#111"><circle cx="135" cy="914.5" r="1.77"/><circle cx="142.51" cy="915.24" r="1.77"/><circle cx="149.73" cy="917.43" r="1.77"/><circle cx="156.39" cy="920.99" r="1.77"/><circle cx="162.22" cy="925.78" r="1.77"/><circle cx="167.01" cy="931.61" r="1.77"/><circle cx="170.57" cy="938.27" r="1.77"/><circle cx="172.76" cy="945.49" r="1.77"/><circle cx="173.5" cy="953" r="1.77"/><circle cx="208" cy="975" r="1.75"/><circle cx="215.41" cy="975.73" r="1.75"/><circle cx="222.54" cy="977.89" r="1.75"/><circle cx="229.11" cy="981.4" r="1.75"/><circle cx="234.87" cy="986.13" r="1.75"/><circle cx="239.6" cy="991.89" r="1.75"/><circle cx="243.11" cy="998.46" r="1.75"/><circle cx="245.27" cy="1005.59" r="1.75"/><circle cx="246" cy="1013" r="1.75"/><circle cx="288" cy="1016.5" r="2.28"/><circle cx="297.66" cy="1017.45" r="2.28"/><circle cx="306.94" cy="1020.27" r="2.28"/><circle cx="315.5" cy="1024.84" r="2.28"/><circle cx="323" cy="1031" r="2.28"/><circle cx="329.16" cy="1038.5" r="2.28"/><circle cx="333.73" cy="1047.06" r="2.28"/><circle cx="336.55" cy="1056.34" r="2.28"/><circle cx="337.5" cy="1066" r="2.28"/><circle cx="373" cy="1067" r="2.3"/><circle cx="382.75" cy="1067.96" r="2.3"/><circle cx="392.13" cy="1070.81" r="2.3"/><circle cx="400.78" cy="1075.43" r="2.3"/><circle cx="408.36" cy="1081.64" r="2.3"/><circle cx="414.57" cy="1089.22" r="2.3"/><circle cx="419.19" cy="1097.87" r="2.3"/><circle cx="422.04" cy="1107.25" r="2.3"/><circle cx="423" cy="1117" r="2.3"/><circle cx="470" cy="1134.5" r="1.72"/><circle cx="477.32" cy="1135.22" r="1.72"/><circle cx="484.35" cy="1137.35" r="1.72"/><circle cx="490.83" cy="1140.82" r="1.72"/><circle cx="496.52" cy="1145.48" r="1.72"/><circle cx="501.18" cy="1151.17" r="1.72"/><circle cx="504.65" cy="1157.65" r="1.72"/><circle cx="506.78" cy="1164.68" r="1.72"/><circle cx="507.5" cy="1172" r="1.72"/><circle cx="633" cy="1266.5" r="2.28"/><circle cx="642.66" cy="1267.45" r="2.28"/><circle cx="651.94" cy="1270.27" r="2.28"/><circle cx="660.5" cy="1274.84" r="2.28"/><circle cx="668" cy="1281" r="2.28"/><circle cx="674.16" cy="1288.5" r="2.28"/><circle cx="678.73" cy="1297.06" r="2.28"/><circle cx="681.55" cy="1306.34" r="2.28"/><circle cx="682.5" cy="1316" r="2.28"/><circle cx="720" cy="1327" r="2.3"/><circle cx="729.75" cy="1327.96" r="2.3"/><circle cx="739.13" cy="1330.81" r="2.3"/><circle cx="747.78" cy="1335.43" r="2.3"/><circle cx="755.36" cy="1341.64" r="2.3"/><circle cx="761.57" cy="1349.22" r="2.3"/><circle cx="766.19" cy="1357.87" r="2.3"/><circle cx="769.04" cy="1367.25" r="2.3"/><circle cx="770" cy="1377" r="2.3"/><circle cx="1378" cy="1440" r="2.25"/><circle cx="1378.94" cy="1430.44" r="2.25"/><circle cx="1381.73" cy="1421.25" r="2.25"/><circle cx="1386.26" cy="1412.78" r="2.25"/><circle cx="1392.35" cy="1405.35" r="2.25"/><circle cx="1399.78" cy="1399.26" r="2.25"/><circle cx="1408.25" cy="1394.73" r="2.25"/><circle cx="1417.44" cy="1391.94" r="2.25"/><circle cx="1427" cy="1391" r="2.25"/></g></svg>
</body></html>
